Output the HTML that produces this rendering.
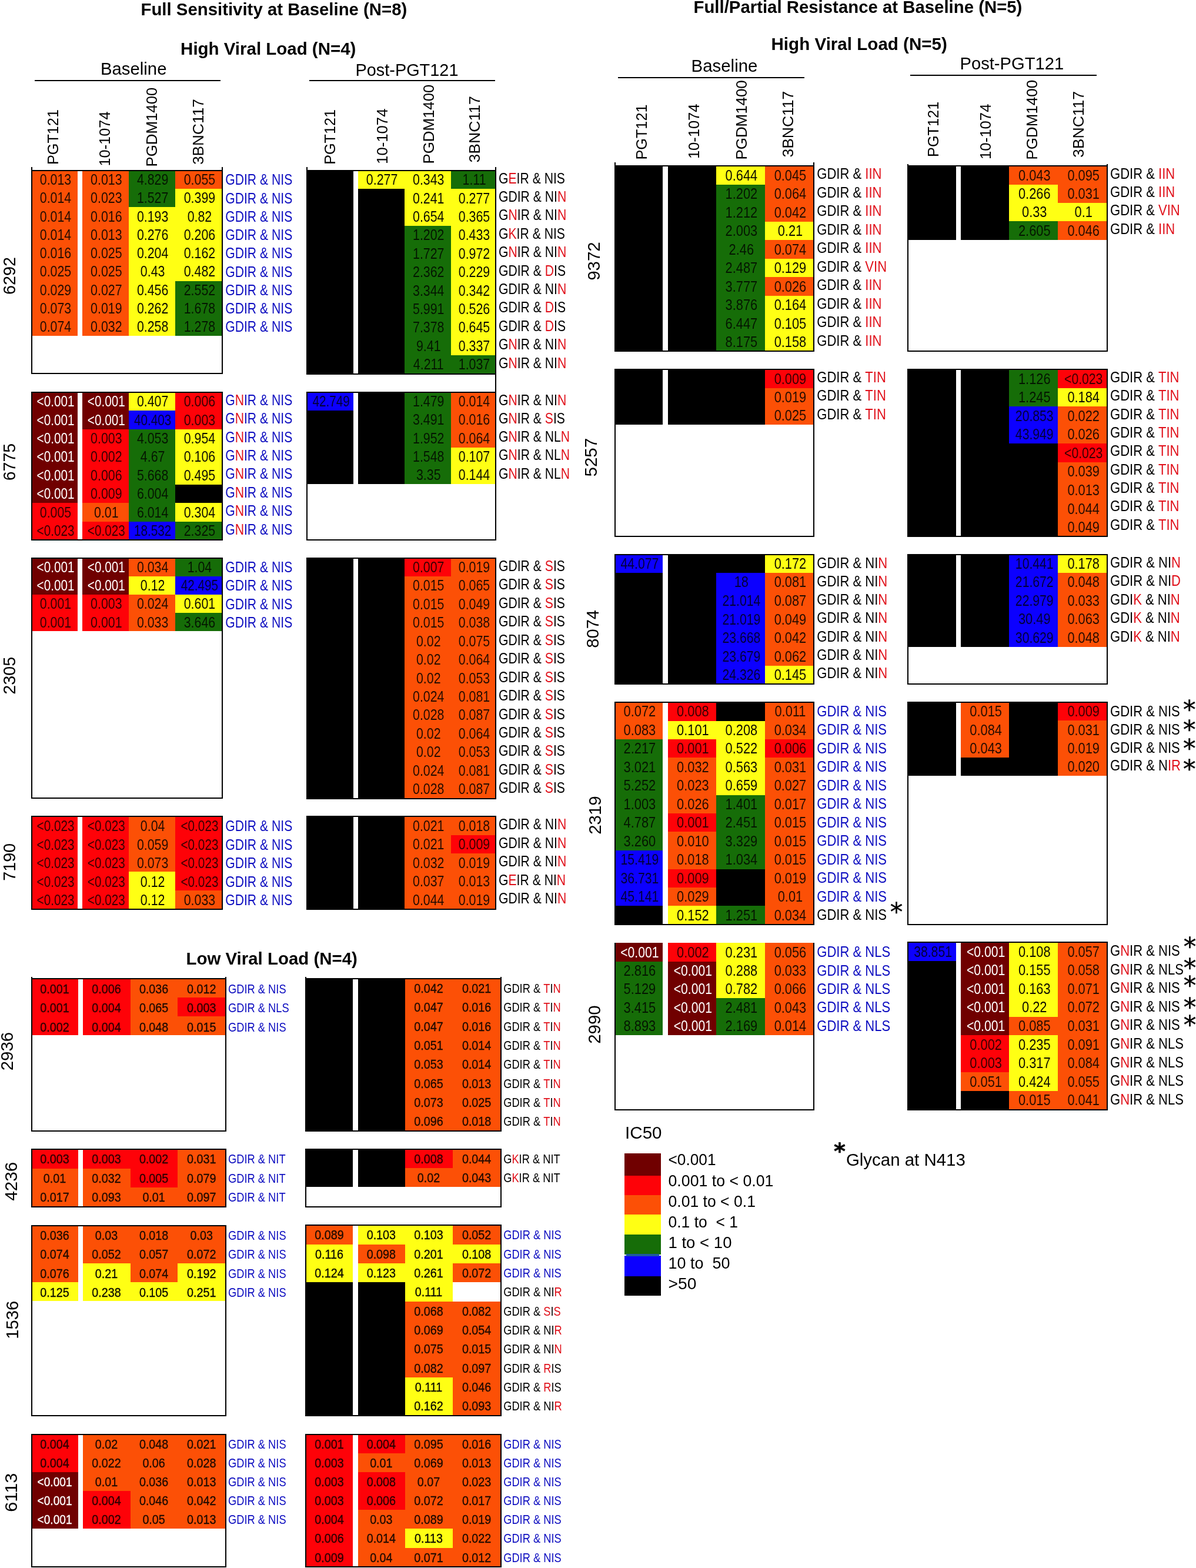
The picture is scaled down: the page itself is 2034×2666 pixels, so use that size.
<!DOCTYPE html>
<html lang="en"><head><meta charset="utf-8"><title>Figure</title>
<style>
html,body{margin:0;padding:0;background:#fff;}
svg{display:block;font-family:"Liberation Sans",Arial,Helvetica,sans-serif;}
svg text{white-space:pre;}
</style></head><body>
<svg width="2034" height="2666" viewBox="0 0 2034 2666" shape-rendering="crispEdges">
<rect x="0" y="0" width="2034" height="2666" fill="#fff"/>
<text transform="translate(239.50 26.00) scale(1.0199 1)" font-size="28.8" text-anchor="start" fill="#000" font-weight="bold">Full Sensitivity at Baseline (N=8)</text>
<text transform="translate(307.10 93.00) scale(1.0236 1)" font-size="28.8" text-anchor="start" fill="#000" font-weight="bold">High Viral Load (N=4)</text>
<text transform="translate(1179.50 21.80) scale(1.0197 1)" font-size="28.8" text-anchor="start" fill="#000" font-weight="bold">Full/Partial Resistance at Baseline (N=5)</text>
<text transform="translate(1311.50 84.90) scale(1.0274 1)" font-size="28.8" text-anchor="start" fill="#000" font-weight="bold">High Viral Load (N=5)</text>
<text transform="translate(316.50 1640.00) scale(1.0224 1)" font-size="28.8" text-anchor="start" fill="#000" font-weight="bold">Low Viral Load (N=4)</text>
<text transform="translate(171.00 126.80) scale(1.0254 1)" font-size="28.6" text-anchor="start" fill="#000">Baseline</text>
<text transform="translate(604.50 129.30) scale(1.0100 1)" font-size="28.6" text-anchor="start" fill="#000">Post-PGT121</text>
<text transform="translate(1175.50 122.00) scale(1.0300 1)" font-size="28.6" text-anchor="start" fill="#000">Baseline</text>
<text transform="translate(1632.50 117.60) scale(1.0198 1)" font-size="28.6" text-anchor="start" fill="#000">Post-PGT121</text>
<line x1="59.00" y1="136.60" x2="374.50" y2="136.60" stroke="#000" stroke-width="2"/>
<line x1="526.00" y1="136.80" x2="842.00" y2="136.80" stroke="#000" stroke-width="2"/>
<line x1="1051.00" y1="132.20" x2="1368.30" y2="132.20" stroke="#000" stroke-width="2"/>
<line x1="1547.70" y1="128.00" x2="1865.00" y2="128.00" stroke="#000" stroke-width="2"/>
<text transform="translate(99.13 280.10) rotate(-90) scale(0.9793 1)" font-size="25.8" text-anchor="start" fill="#000">PGT121</text>
<text transform="translate(186.73 282.50) rotate(-90) scale(0.9822 1)" font-size="25.8" text-anchor="start" fill="#000">10-1074</text>
<text transform="translate(267.13 283.50) rotate(-90) scale(1.0015 1)" font-size="25.8" text-anchor="start" fill="#000">PGDM1400</text>
<text transform="translate(345.63 280.10) rotate(-90) scale(1.0186 1)" font-size="25.8" text-anchor="start" fill="#000">3BNC117</text>
<text transform="translate(569.73 279.80) rotate(-90) scale(0.9762 1)" font-size="25.8" text-anchor="start" fill="#000">PGT121</text>
<text transform="translate(659.13 278.90) rotate(-90) scale(0.9970 1)" font-size="25.8" text-anchor="start" fill="#000">10-1074</text>
<text transform="translate(737.53 278.50) rotate(-90) scale(1.0015 1)" font-size="25.8" text-anchor="start" fill="#000">PGDM1400</text>
<text transform="translate(816.13 276.50) rotate(-90) scale(1.0313 1)" font-size="25.8" text-anchor="start" fill="#000">3BNC117</text>
<text transform="translate(1100.13 271.50) rotate(-90) scale(0.9783 1)" font-size="25.8" text-anchor="start" fill="#000">PGT121</text>
<text transform="translate(1189.13 270.10) rotate(-90) scale(0.9885 1)" font-size="25.8" text-anchor="start" fill="#000">10-1074</text>
<text transform="translate(1269.63 271.50) rotate(-90) scale(1.0037 1)" font-size="25.8" text-anchor="start" fill="#000">PGDM1400</text>
<text transform="translate(1348.63 267.50) rotate(-90) scale(1.0250 1)" font-size="25.8" text-anchor="start" fill="#000">3BNC117</text>
<text transform="translate(1596.13 266.90) rotate(-90) scale(0.9804 1)" font-size="25.8" text-anchor="start" fill="#000">PGT121</text>
<text transform="translate(1684.53 271.00) rotate(-90) scale(0.9980 1)" font-size="25.8" text-anchor="start" fill="#000">10-1074</text>
<text transform="translate(1764.03 271.70) rotate(-90) scale(1.0082 1)" font-size="25.8" text-anchor="start" fill="#000">PGDM1400</text>
<text transform="translate(1843.43 267.90) rotate(-90) scale(1.0277 1)" font-size="25.8" text-anchor="start" fill="#000">3BNC117</text>
<text transform="translate(26.30 501.00) rotate(-90) scale(0.9686 1)" font-size="29.7" text-anchor="start" fill="#000">6292</text>
<text transform="translate(26.30 817.25) rotate(-90) scale(0.9611 1)" font-size="29.7" text-anchor="start" fill="#000">6775</text>
<text transform="translate(26.30 1180.80) rotate(-90) scale(0.9686 1)" font-size="29.7" text-anchor="start" fill="#000">2305</text>
<text transform="translate(26.30 1497.80) rotate(-90) scale(0.9686 1)" font-size="29.7" text-anchor="start" fill="#000">7190</text>
<text transform="translate(21.89 1820.25) rotate(-90) scale(0.9913 1)" font-size="29.7" text-anchor="start" fill="#000">2936</text>
<text transform="translate(29.09 2041.70) rotate(-90) scale(0.9989 1)" font-size="29.7" text-anchor="start" fill="#000">4236</text>
<text transform="translate(31.39 2276.80) rotate(-90) scale(0.9838 1)" font-size="29.7" text-anchor="start" fill="#000">1536</text>
<text transform="translate(28.70 2570.70) rotate(-90) scale(1.0334 1)" font-size="29.7" text-anchor="start" fill="#000">6113</text>
<text transform="translate(1019.69 476.75) rotate(-90) scale(0.9913 1)" font-size="29.7" text-anchor="start" fill="#000">9372</text>
<text transform="translate(1015.19 810.45) rotate(-90) scale(0.9913 1)" font-size="29.7" text-anchor="start" fill="#000">5257</text>
<text transform="translate(1018.39 1101.65) rotate(-90) scale(0.9792 1)" font-size="29.7" text-anchor="start" fill="#000">8074</text>
<text transform="translate(1022.19 1418.75) rotate(-90) scale(0.9913 1)" font-size="29.7" text-anchor="start" fill="#000">2319</text>
<text transform="translate(1020.89 1774.75) rotate(-90) scale(0.9913 1)" font-size="29.7" text-anchor="start" fill="#000">2990</text>
<rect x="54" y="290" width="78" height="281" fill="#fc5006"/>
<rect x="140" y="290" width="79" height="281" fill="#fc5006"/>
<rect x="219" y="290" width="79" height="62" fill="#166d08"/>
<rect x="219" y="352" width="79" height="219" fill="#ffff14"/>
<rect x="298" y="290" width="80" height="31" fill="#fc5006"/>
<rect x="298" y="321" width="80" height="157" fill="#ffff14"/>
<rect x="298" y="478" width="80" height="93" fill="#166d08"/>
<text transform="translate(94.50 314.20) scale(0.8350 1)" font-size="25.6" text-anchor="middle" fill="#000" fill-opacity="0.85">0.013</text>
<text transform="translate(180.80 314.20) scale(0.8350 1)" font-size="25.6" text-anchor="middle" fill="#000" fill-opacity="0.85">0.013</text>
<text transform="translate(259.65 314.20) scale(0.8350 1)" font-size="25.6" text-anchor="middle" fill="#000" fill-opacity="0.8">4.829</text>
<text transform="translate(339.45 314.20) scale(0.8350 1)" font-size="25.6" text-anchor="middle" fill="#000" fill-opacity="0.85">0.055</text>
<text transform="translate(94.50 345.45) scale(0.8350 1)" font-size="25.6" text-anchor="middle" fill="#000" fill-opacity="0.85">0.014</text>
<text transform="translate(180.80 345.45) scale(0.8350 1)" font-size="25.6" text-anchor="middle" fill="#000" fill-opacity="0.85">0.023</text>
<text transform="translate(259.65 345.45) scale(0.8350 1)" font-size="25.6" text-anchor="middle" fill="#000" fill-opacity="0.8">1.527</text>
<text transform="translate(339.45 345.45) scale(0.8350 1)" font-size="25.6" text-anchor="middle" fill="#000" fill-opacity="0.95">0.399</text>
<text transform="translate(94.50 376.70) scale(0.8350 1)" font-size="25.6" text-anchor="middle" fill="#000" fill-opacity="0.85">0.014</text>
<text transform="translate(180.80 376.70) scale(0.8350 1)" font-size="25.6" text-anchor="middle" fill="#000" fill-opacity="0.85">0.016</text>
<text transform="translate(259.65 376.70) scale(0.8350 1)" font-size="25.6" text-anchor="middle" fill="#000" fill-opacity="0.95">0.193</text>
<text transform="translate(339.45 376.70) scale(0.8350 1)" font-size="25.6" text-anchor="middle" fill="#000" fill-opacity="0.95">0.82</text>
<text transform="translate(94.50 407.95) scale(0.8350 1)" font-size="25.6" text-anchor="middle" fill="#000" fill-opacity="0.85">0.014</text>
<text transform="translate(180.80 407.95) scale(0.8350 1)" font-size="25.6" text-anchor="middle" fill="#000" fill-opacity="0.85">0.013</text>
<text transform="translate(259.65 407.95) scale(0.8350 1)" font-size="25.6" text-anchor="middle" fill="#000" fill-opacity="0.95">0.276</text>
<text transform="translate(339.45 407.95) scale(0.8350 1)" font-size="25.6" text-anchor="middle" fill="#000" fill-opacity="0.95">0.206</text>
<text transform="translate(94.50 439.20) scale(0.8350 1)" font-size="25.6" text-anchor="middle" fill="#000" fill-opacity="0.85">0.016</text>
<text transform="translate(180.80 439.20) scale(0.8350 1)" font-size="25.6" text-anchor="middle" fill="#000" fill-opacity="0.85">0.025</text>
<text transform="translate(259.65 439.20) scale(0.8350 1)" font-size="25.6" text-anchor="middle" fill="#000" fill-opacity="0.95">0.204</text>
<text transform="translate(339.45 439.20) scale(0.8350 1)" font-size="25.6" text-anchor="middle" fill="#000" fill-opacity="0.95">0.162</text>
<text transform="translate(94.50 470.45) scale(0.8350 1)" font-size="25.6" text-anchor="middle" fill="#000" fill-opacity="0.85">0.025</text>
<text transform="translate(180.80 470.45) scale(0.8350 1)" font-size="25.6" text-anchor="middle" fill="#000" fill-opacity="0.85">0.025</text>
<text transform="translate(259.65 470.45) scale(0.8350 1)" font-size="25.6" text-anchor="middle" fill="#000" fill-opacity="0.95">0.43</text>
<text transform="translate(339.45 470.45) scale(0.8350 1)" font-size="25.6" text-anchor="middle" fill="#000" fill-opacity="0.95">0.482</text>
<text transform="translate(94.50 501.70) scale(0.8350 1)" font-size="25.6" text-anchor="middle" fill="#000" fill-opacity="0.85">0.029</text>
<text transform="translate(180.80 501.70) scale(0.8350 1)" font-size="25.6" text-anchor="middle" fill="#000" fill-opacity="0.85">0.027</text>
<text transform="translate(259.65 501.70) scale(0.8350 1)" font-size="25.6" text-anchor="middle" fill="#000" fill-opacity="0.95">0.456</text>
<text transform="translate(339.45 501.70) scale(0.8350 1)" font-size="25.6" text-anchor="middle" fill="#000" fill-opacity="0.8">2.552</text>
<text transform="translate(94.50 532.95) scale(0.8350 1)" font-size="25.6" text-anchor="middle" fill="#000" fill-opacity="0.85">0.073</text>
<text transform="translate(180.80 532.95) scale(0.8350 1)" font-size="25.6" text-anchor="middle" fill="#000" fill-opacity="0.85">0.019</text>
<text transform="translate(259.65 532.95) scale(0.8350 1)" font-size="25.6" text-anchor="middle" fill="#000" fill-opacity="0.95">0.262</text>
<text transform="translate(339.45 532.95) scale(0.8350 1)" font-size="25.6" text-anchor="middle" fill="#000" fill-opacity="0.8">1.678</text>
<text transform="translate(94.50 564.20) scale(0.8350 1)" font-size="25.6" text-anchor="middle" fill="#000" fill-opacity="0.85">0.074</text>
<text transform="translate(180.80 564.20) scale(0.8350 1)" font-size="25.6" text-anchor="middle" fill="#000" fill-opacity="0.85">0.032</text>
<text transform="translate(259.65 564.20) scale(0.8350 1)" font-size="25.6" text-anchor="middle" fill="#000" fill-opacity="0.95">0.258</text>
<text transform="translate(339.45 564.20) scale(0.8350 1)" font-size="25.6" text-anchor="middle" fill="#000" fill-opacity="0.8">1.278</text>
<rect x="54.00" y="290.00" width="324.20" height="345.00" fill="none" stroke="#000" stroke-width="2"/>
<line x1="54.00" y1="284.00" x2="54.00" y2="291.00" stroke="#000" stroke-width="2"/>
<line x1="378.20" y1="284.00" x2="378.20" y2="291.00" stroke="#000" stroke-width="2"/>
<text transform="translate(383.20 314.30) scale(0.8370 1)" font-size="25.3" text-anchor="start" fill="#0d0dc0">GDIR &amp; NIS</text>
<text transform="translate(383.20 345.55) scale(0.8370 1)" font-size="25.3" text-anchor="start" fill="#0d0dc0">GDIR &amp; NIS</text>
<text transform="translate(383.20 376.80) scale(0.8370 1)" font-size="25.3" text-anchor="start" fill="#0d0dc0">GDIR &amp; NIS</text>
<text transform="translate(383.20 408.05) scale(0.8370 1)" font-size="25.3" text-anchor="start" fill="#0d0dc0">GDIR &amp; NIS</text>
<text transform="translate(383.20 439.30) scale(0.8370 1)" font-size="25.3" text-anchor="start" fill="#0d0dc0">GDIR &amp; NIS</text>
<text transform="translate(383.20 470.55) scale(0.8370 1)" font-size="25.3" text-anchor="start" fill="#0d0dc0">GDIR &amp; NIS</text>
<text transform="translate(383.20 501.80) scale(0.8370 1)" font-size="25.3" text-anchor="start" fill="#0d0dc0">GDIR &amp; NIS</text>
<text transform="translate(383.20 533.05) scale(0.8370 1)" font-size="25.3" text-anchor="start" fill="#0d0dc0">GDIR &amp; NIS</text>
<text transform="translate(383.20 564.30) scale(0.8370 1)" font-size="25.3" text-anchor="start" fill="#0d0dc0">GDIR &amp; NIS</text>
<rect x="522" y="290" width="79" height="345" fill="#000000"/>
<rect x="609" y="290" width="79" height="31" fill="#ffff14"/>
<rect x="609" y="321" width="79" height="314" fill="#000000"/>
<rect x="688" y="290" width="79" height="94" fill="#ffff14"/>
<rect x="688" y="384" width="79" height="251" fill="#166d08"/>
<rect x="767" y="290" width="76" height="31" fill="#166d08"/>
<rect x="767" y="321" width="76" height="283" fill="#ffff14"/>
<rect x="767" y="604" width="76" height="31" fill="#166d08"/>
<text transform="translate(649.55 314.20) scale(0.8350 1)" font-size="25.6" text-anchor="middle" fill="#000" fill-opacity="0.95">0.277</text>
<text transform="translate(728.75 314.20) scale(0.8350 1)" font-size="25.6" text-anchor="middle" fill="#000" fill-opacity="0.95">0.343</text>
<text transform="translate(806.50 314.20) scale(0.8350 1)" font-size="25.6" text-anchor="middle" fill="#000" fill-opacity="0.8">1.11</text>
<text transform="translate(728.75 345.60) scale(0.8350 1)" font-size="25.6" text-anchor="middle" fill="#000" fill-opacity="0.95">0.241</text>
<text transform="translate(806.50 345.60) scale(0.8350 1)" font-size="25.6" text-anchor="middle" fill="#000" fill-opacity="0.95">0.277</text>
<text transform="translate(728.75 377.00) scale(0.8350 1)" font-size="25.6" text-anchor="middle" fill="#000" fill-opacity="0.95">0.654</text>
<text transform="translate(806.50 377.00) scale(0.8350 1)" font-size="25.6" text-anchor="middle" fill="#000" fill-opacity="0.95">0.365</text>
<text transform="translate(728.75 408.40) scale(0.8350 1)" font-size="25.6" text-anchor="middle" fill="#000" fill-opacity="0.8">1.202</text>
<text transform="translate(806.50 408.40) scale(0.8350 1)" font-size="25.6" text-anchor="middle" fill="#000" fill-opacity="0.95">0.433</text>
<text transform="translate(728.75 439.80) scale(0.8350 1)" font-size="25.6" text-anchor="middle" fill="#000" fill-opacity="0.8">1.727</text>
<text transform="translate(806.50 439.80) scale(0.8350 1)" font-size="25.6" text-anchor="middle" fill="#000" fill-opacity="0.95">0.972</text>
<text transform="translate(728.75 471.20) scale(0.8350 1)" font-size="25.6" text-anchor="middle" fill="#000" fill-opacity="0.8">2.362</text>
<text transform="translate(806.50 471.20) scale(0.8350 1)" font-size="25.6" text-anchor="middle" fill="#000" fill-opacity="0.95">0.229</text>
<text transform="translate(728.75 502.60) scale(0.8350 1)" font-size="25.6" text-anchor="middle" fill="#000" fill-opacity="0.8">3.344</text>
<text transform="translate(806.50 502.60) scale(0.8350 1)" font-size="25.6" text-anchor="middle" fill="#000" fill-opacity="0.95">0.342</text>
<text transform="translate(728.75 534.00) scale(0.8350 1)" font-size="25.6" text-anchor="middle" fill="#000" fill-opacity="0.8">5.991</text>
<text transform="translate(806.50 534.00) scale(0.8350 1)" font-size="25.6" text-anchor="middle" fill="#000" fill-opacity="0.95">0.526</text>
<text transform="translate(728.75 565.40) scale(0.8350 1)" font-size="25.6" text-anchor="middle" fill="#000" fill-opacity="0.8">7.378</text>
<text transform="translate(806.50 565.40) scale(0.8350 1)" font-size="25.6" text-anchor="middle" fill="#000" fill-opacity="0.95">0.645</text>
<text transform="translate(728.75 596.80) scale(0.8350 1)" font-size="25.6" text-anchor="middle" fill="#000" fill-opacity="0.8">9.41</text>
<text transform="translate(806.50 596.80) scale(0.8350 1)" font-size="25.6" text-anchor="middle" fill="#000" fill-opacity="0.95">0.337</text>
<text transform="translate(728.75 628.20) scale(0.8350 1)" font-size="25.6" text-anchor="middle" fill="#000" fill-opacity="0.8">4.211</text>
<text transform="translate(806.50 628.20) scale(0.8350 1)" font-size="25.6" text-anchor="middle" fill="#000" fill-opacity="0.8">1.037</text>
<rect x="522.30" y="290.00" width="320.70" height="345.50" fill="none" stroke="#000" stroke-width="2"/>
<line x1="522.30" y1="284.00" x2="522.30" y2="291.00" stroke="#000" stroke-width="2"/>
<line x1="843.00" y1="284.00" x2="843.00" y2="291.00" stroke="#000" stroke-width="2"/>
<text transform="translate(848.00 311.60) scale(0.8370 1)" font-size="25.3" text-anchor="start" fill="#000">G<tspan fill="#e0101a">E</tspan>IR &amp; NIS</text>
<text transform="translate(848.00 343.00) scale(0.8370 1)" font-size="25.3" text-anchor="start" fill="#000">GDIR &amp; NI<tspan fill="#e0101a">N</tspan></text>
<text transform="translate(848.00 374.40) scale(0.8370 1)" font-size="25.3" text-anchor="start" fill="#000">G<tspan fill="#e0101a">N</tspan>IR &amp; NI<tspan fill="#e0101a">N</tspan></text>
<text transform="translate(848.00 405.80) scale(0.8370 1)" font-size="25.3" text-anchor="start" fill="#000">G<tspan fill="#e0101a">K</tspan>IR &amp; NIS</text>
<text transform="translate(848.00 437.20) scale(0.8370 1)" font-size="25.3" text-anchor="start" fill="#000">G<tspan fill="#e0101a">N</tspan>IR &amp; NI<tspan fill="#e0101a">N</tspan></text>
<text transform="translate(848.00 468.60) scale(0.8370 1)" font-size="25.3" text-anchor="start" fill="#000">GDIR &amp; <tspan fill="#e0101a">D</tspan>IS</text>
<text transform="translate(848.00 500.00) scale(0.8370 1)" font-size="25.3" text-anchor="start" fill="#000">GDIR &amp; NI<tspan fill="#e0101a">N</tspan></text>
<text transform="translate(848.00 531.40) scale(0.8370 1)" font-size="25.3" text-anchor="start" fill="#000">GDIR &amp; <tspan fill="#e0101a">D</tspan>IS</text>
<text transform="translate(848.00 562.80) scale(0.8370 1)" font-size="25.3" text-anchor="start" fill="#000">GDIR &amp; <tspan fill="#e0101a">D</tspan>IS</text>
<text transform="translate(848.00 594.20) scale(0.8370 1)" font-size="25.3" text-anchor="start" fill="#000">G<tspan fill="#e0101a">N</tspan>IR &amp; NI<tspan fill="#e0101a">N</tspan></text>
<text transform="translate(848.00 625.60) scale(0.8370 1)" font-size="25.3" text-anchor="start" fill="#000">G<tspan fill="#e0101a">N</tspan>IR &amp; NI<tspan fill="#e0101a">N</tspan></text>
<rect x="54" y="667" width="78" height="188" fill="#700000"/>
<rect x="54" y="855" width="78" height="63" fill="#fe0208"/>
<rect x="140" y="667" width="79" height="63" fill="#700000"/>
<rect x="140" y="730" width="79" height="125" fill="#fe0208"/>
<rect x="140" y="855" width="79" height="32" fill="#fc5006"/>
<rect x="140" y="887" width="79" height="31" fill="#fe0208"/>
<rect x="219" y="667" width="79" height="31" fill="#ffff14"/>
<rect x="219" y="698" width="79" height="32" fill="#0c00ff"/>
<rect x="219" y="730" width="79" height="157" fill="#166d08"/>
<rect x="219" y="887" width="79" height="31" fill="#0c00ff"/>
<rect x="298" y="667" width="80" height="63" fill="#fe0208"/>
<rect x="298" y="730" width="80" height="94" fill="#ffff14"/>
<rect x="298" y="824" width="80" height="31" fill="#000000"/>
<rect x="298" y="855" width="80" height="32" fill="#ffff14"/>
<rect x="298" y="887" width="80" height="31" fill="#166d08"/>
<text transform="translate(94.50 691.20) scale(0.8099 1)" font-size="25.6" text-anchor="middle" fill="#fff">&lt;0.001</text>
<text transform="translate(180.80 691.20) scale(0.8099 1)" font-size="25.6" text-anchor="middle" fill="#fff">&lt;0.001</text>
<text transform="translate(259.65 691.20) scale(0.8350 1)" font-size="25.6" text-anchor="middle" fill="#000" fill-opacity="0.95">0.407</text>
<text transform="translate(339.45 691.20) scale(0.8350 1)" font-size="25.6" text-anchor="middle" fill="#000" fill-opacity="0.78">0.006</text>
<text transform="translate(94.50 722.60) scale(0.8099 1)" font-size="25.6" text-anchor="middle" fill="#fff">&lt;0.001</text>
<text transform="translate(180.80 722.60) scale(0.8099 1)" font-size="25.6" text-anchor="middle" fill="#fff">&lt;0.001</text>
<text transform="translate(259.65 722.60) scale(0.8099 1)" font-size="25.6" text-anchor="middle" fill="#000" fill-opacity="0.78">40.403</text>
<text transform="translate(339.45 722.60) scale(0.8350 1)" font-size="25.6" text-anchor="middle" fill="#000" fill-opacity="0.78">0.003</text>
<text transform="translate(94.50 754.00) scale(0.8099 1)" font-size="25.6" text-anchor="middle" fill="#fff">&lt;0.001</text>
<text transform="translate(180.80 754.00) scale(0.8350 1)" font-size="25.6" text-anchor="middle" fill="#000" fill-opacity="0.78">0.003</text>
<text transform="translate(259.65 754.00) scale(0.8350 1)" font-size="25.6" text-anchor="middle" fill="#000" fill-opacity="0.8">4.053</text>
<text transform="translate(339.45 754.00) scale(0.8350 1)" font-size="25.6" text-anchor="middle" fill="#000" fill-opacity="0.95">0.954</text>
<text transform="translate(94.50 785.40) scale(0.8099 1)" font-size="25.6" text-anchor="middle" fill="#fff">&lt;0.001</text>
<text transform="translate(180.80 785.40) scale(0.8350 1)" font-size="25.6" text-anchor="middle" fill="#000" fill-opacity="0.78">0.002</text>
<text transform="translate(259.65 785.40) scale(0.8350 1)" font-size="25.6" text-anchor="middle" fill="#000" fill-opacity="0.8">4.67</text>
<text transform="translate(339.45 785.40) scale(0.8350 1)" font-size="25.6" text-anchor="middle" fill="#000" fill-opacity="0.95">0.106</text>
<text transform="translate(94.50 816.80) scale(0.8099 1)" font-size="25.6" text-anchor="middle" fill="#fff">&lt;0.001</text>
<text transform="translate(180.80 816.80) scale(0.8350 1)" font-size="25.6" text-anchor="middle" fill="#000" fill-opacity="0.78">0.006</text>
<text transform="translate(259.65 816.80) scale(0.8350 1)" font-size="25.6" text-anchor="middle" fill="#000" fill-opacity="0.8">5.668</text>
<text transform="translate(339.45 816.80) scale(0.8350 1)" font-size="25.6" text-anchor="middle" fill="#000" fill-opacity="0.95">0.495</text>
<text transform="translate(94.50 848.20) scale(0.8099 1)" font-size="25.6" text-anchor="middle" fill="#fff">&lt;0.001</text>
<text transform="translate(180.80 848.20) scale(0.8350 1)" font-size="25.6" text-anchor="middle" fill="#000" fill-opacity="0.78">0.009</text>
<text transform="translate(259.65 848.20) scale(0.8350 1)" font-size="25.6" text-anchor="middle" fill="#000" fill-opacity="0.8">6.004</text>
<text transform="translate(94.50 879.60) scale(0.8350 1)" font-size="25.6" text-anchor="middle" fill="#000" fill-opacity="0.78">0.005</text>
<text transform="translate(180.80 879.60) scale(0.8350 1)" font-size="25.6" text-anchor="middle" fill="#000" fill-opacity="0.85">0.01</text>
<text transform="translate(259.65 879.60) scale(0.8350 1)" font-size="25.6" text-anchor="middle" fill="#000" fill-opacity="0.8">6.014</text>
<text transform="translate(339.45 879.60) scale(0.8350 1)" font-size="25.6" text-anchor="middle" fill="#000" fill-opacity="0.95">0.304</text>
<text transform="translate(94.50 911.00) scale(0.8099 1)" font-size="25.6" text-anchor="middle" fill="#000" fill-opacity="0.78">&lt;0.023</text>
<text transform="translate(180.80 911.00) scale(0.8099 1)" font-size="25.6" text-anchor="middle" fill="#000" fill-opacity="0.78">&lt;0.023</text>
<text transform="translate(259.65 911.00) scale(0.8099 1)" font-size="25.6" text-anchor="middle" fill="#000" fill-opacity="0.78">18.532</text>
<text transform="translate(339.45 911.00) scale(0.8350 1)" font-size="25.6" text-anchor="middle" fill="#000" fill-opacity="0.8">2.325</text>
<rect x="54.00" y="667.00" width="324.20" height="251.00" fill="none" stroke="#000" stroke-width="2"/>
<text transform="translate(383.20 688.80) scale(0.8370 1)" font-size="25.3" text-anchor="start" fill="#0d0dc0">G<tspan fill="#e0101a">N</tspan>IR &amp; NIS</text>
<text transform="translate(383.20 720.20) scale(0.8370 1)" font-size="25.3" text-anchor="start" fill="#0d0dc0">G<tspan fill="#e0101a">N</tspan>IR &amp; NIS</text>
<text transform="translate(383.20 751.60) scale(0.8370 1)" font-size="25.3" text-anchor="start" fill="#0d0dc0">G<tspan fill="#e0101a">N</tspan>IR &amp; NIS</text>
<text transform="translate(383.20 783.00) scale(0.8370 1)" font-size="25.3" text-anchor="start" fill="#0d0dc0">G<tspan fill="#e0101a">N</tspan>IR &amp; NIS</text>
<text transform="translate(383.20 814.40) scale(0.8370 1)" font-size="25.3" text-anchor="start" fill="#0d0dc0">G<tspan fill="#e0101a">N</tspan>IR &amp; NIS</text>
<text transform="translate(383.20 845.80) scale(0.8370 1)" font-size="25.3" text-anchor="start" fill="#0d0dc0">G<tspan fill="#e0101a">N</tspan>IR &amp; NIS</text>
<text transform="translate(383.20 877.20) scale(0.8370 1)" font-size="25.3" text-anchor="start" fill="#0d0dc0">G<tspan fill="#e0101a">N</tspan>IR &amp; NIS</text>
<text transform="translate(383.20 908.60) scale(0.8370 1)" font-size="25.3" text-anchor="start" fill="#0d0dc0">G<tspan fill="#e0101a">N</tspan>IR &amp; NIS</text>
<rect x="522" y="667" width="79" height="31" fill="#0c00ff"/>
<rect x="522" y="698" width="79" height="125" fill="#000000"/>
<rect x="609" y="667" width="79" height="156" fill="#000000"/>
<rect x="688" y="667" width="79" height="156" fill="#166d08"/>
<rect x="767" y="667" width="76" height="94" fill="#fc5006"/>
<rect x="767" y="761" width="76" height="62" fill="#ffff14"/>
<text transform="translate(563.15 691.20) scale(0.8099 1)" font-size="25.6" text-anchor="middle" fill="#000" fill-opacity="0.78">42.749</text>
<text transform="translate(728.75 691.20) scale(0.8350 1)" font-size="25.6" text-anchor="middle" fill="#000" fill-opacity="0.8">1.479</text>
<text transform="translate(806.50 691.20) scale(0.8350 1)" font-size="25.6" text-anchor="middle" fill="#000" fill-opacity="0.85">0.014</text>
<text transform="translate(728.75 722.40) scale(0.8350 1)" font-size="25.6" text-anchor="middle" fill="#000" fill-opacity="0.8">3.491</text>
<text transform="translate(806.50 722.40) scale(0.8350 1)" font-size="25.6" text-anchor="middle" fill="#000" fill-opacity="0.85">0.016</text>
<text transform="translate(728.75 753.60) scale(0.8350 1)" font-size="25.6" text-anchor="middle" fill="#000" fill-opacity="0.8">1.952</text>
<text transform="translate(806.50 753.60) scale(0.8350 1)" font-size="25.6" text-anchor="middle" fill="#000" fill-opacity="0.85">0.064</text>
<text transform="translate(728.75 784.80) scale(0.8350 1)" font-size="25.6" text-anchor="middle" fill="#000" fill-opacity="0.8">1.548</text>
<text transform="translate(806.50 784.80) scale(0.8350 1)" font-size="25.6" text-anchor="middle" fill="#000" fill-opacity="0.95">0.107</text>
<text transform="translate(728.75 816.00) scale(0.8350 1)" font-size="25.6" text-anchor="middle" fill="#000" fill-opacity="0.8">3.35</text>
<text transform="translate(806.50 816.00) scale(0.8350 1)" font-size="25.6" text-anchor="middle" fill="#000" fill-opacity="0.95">0.144</text>
<rect x="522.30" y="667.00" width="320.70" height="251.00" fill="none" stroke="#000" stroke-width="2"/>
<text transform="translate(848.00 688.80) scale(0.8370 1)" font-size="25.3" text-anchor="start" fill="#000">G<tspan fill="#e0101a">N</tspan>IR &amp; NI<tspan fill="#e0101a">N</tspan></text>
<text transform="translate(848.00 720.00) scale(0.8370 1)" font-size="25.3" text-anchor="start" fill="#000">G<tspan fill="#e0101a">N</tspan>IR &amp; <tspan fill="#e0101a">S</tspan>IS</text>
<text transform="translate(848.00 751.20) scale(0.8370 1)" font-size="25.3" text-anchor="start" fill="#000">G<tspan fill="#e0101a">N</tspan>IR &amp; NL<tspan fill="#e0101a">N</tspan></text>
<text transform="translate(848.00 782.40) scale(0.8370 1)" font-size="25.3" text-anchor="start" fill="#000">G<tspan fill="#e0101a">N</tspan>IR &amp; NL<tspan fill="#e0101a">N</tspan></text>
<text transform="translate(848.00 813.60) scale(0.8370 1)" font-size="25.3" text-anchor="start" fill="#000">G<tspan fill="#e0101a">N</tspan>IR &amp; NL<tspan fill="#e0101a">N</tspan></text>
<line x1="843" y1="635" x2="843" y2="668" stroke="#000" stroke-width="2"/>
<rect x="54" y="949" width="78" height="62" fill="#700000"/>
<rect x="54" y="1011" width="78" height="62" fill="#fe0208"/>
<rect x="140" y="949" width="79" height="62" fill="#700000"/>
<rect x="140" y="1011" width="79" height="62" fill="#fe0208"/>
<rect x="219" y="949" width="79" height="31" fill="#fc5006"/>
<rect x="219" y="980" width="79" height="31" fill="#ffff14"/>
<rect x="219" y="1011" width="79" height="62" fill="#fc5006"/>
<rect x="298" y="949" width="80" height="31" fill="#166d08"/>
<rect x="298" y="980" width="80" height="31" fill="#0c00ff"/>
<rect x="298" y="1011" width="80" height="31" fill="#ffff14"/>
<rect x="298" y="1042" width="80" height="31" fill="#166d08"/>
<text transform="translate(94.50 973.20) scale(0.8099 1)" font-size="25.6" text-anchor="middle" fill="#fff">&lt;0.001</text>
<text transform="translate(180.80 973.20) scale(0.8099 1)" font-size="25.6" text-anchor="middle" fill="#fff">&lt;0.001</text>
<text transform="translate(259.65 973.20) scale(0.8350 1)" font-size="25.6" text-anchor="middle" fill="#000" fill-opacity="0.85">0.034</text>
<text transform="translate(339.45 973.20) scale(0.8350 1)" font-size="25.6" text-anchor="middle" fill="#000" fill-opacity="0.8">1.04</text>
<text transform="translate(94.50 1004.30) scale(0.8099 1)" font-size="25.6" text-anchor="middle" fill="#fff">&lt;0.001</text>
<text transform="translate(180.80 1004.30) scale(0.8099 1)" font-size="25.6" text-anchor="middle" fill="#fff">&lt;0.001</text>
<text transform="translate(259.65 1004.30) scale(0.8350 1)" font-size="25.6" text-anchor="middle" fill="#000" fill-opacity="0.95">0.12</text>
<text transform="translate(339.45 1004.30) scale(0.8099 1)" font-size="25.6" text-anchor="middle" fill="#000" fill-opacity="0.78">42.495</text>
<text transform="translate(94.50 1035.40) scale(0.8350 1)" font-size="25.6" text-anchor="middle" fill="#000" fill-opacity="0.78">0.001</text>
<text transform="translate(180.80 1035.40) scale(0.8350 1)" font-size="25.6" text-anchor="middle" fill="#000" fill-opacity="0.78">0.003</text>
<text transform="translate(259.65 1035.40) scale(0.8350 1)" font-size="25.6" text-anchor="middle" fill="#000" fill-opacity="0.85">0.024</text>
<text transform="translate(339.45 1035.40) scale(0.8350 1)" font-size="25.6" text-anchor="middle" fill="#000" fill-opacity="0.95">0.601</text>
<text transform="translate(94.50 1066.50) scale(0.8350 1)" font-size="25.6" text-anchor="middle" fill="#000" fill-opacity="0.78">0.001</text>
<text transform="translate(180.80 1066.50) scale(0.8350 1)" font-size="25.6" text-anchor="middle" fill="#000" fill-opacity="0.78">0.001</text>
<text transform="translate(259.65 1066.50) scale(0.8350 1)" font-size="25.6" text-anchor="middle" fill="#000" fill-opacity="0.85">0.033</text>
<text transform="translate(339.45 1066.50) scale(0.8350 1)" font-size="25.6" text-anchor="middle" fill="#000" fill-opacity="0.8">3.646</text>
<rect x="54.00" y="949.00" width="324.20" height="408.30" fill="none" stroke="#000" stroke-width="2"/>
<text transform="translate(383.20 973.30) scale(0.8370 1)" font-size="25.3" text-anchor="start" fill="#0d0dc0">GDIR &amp; NIS</text>
<text transform="translate(383.20 1004.40) scale(0.8370 1)" font-size="25.3" text-anchor="start" fill="#0d0dc0">GDIR &amp; NIS</text>
<text transform="translate(383.20 1035.50) scale(0.8370 1)" font-size="25.3" text-anchor="start" fill="#0d0dc0">GDIR &amp; NIS</text>
<text transform="translate(383.20 1066.60) scale(0.8370 1)" font-size="25.3" text-anchor="start" fill="#0d0dc0">GDIR &amp; NIS</text>
<rect x="522" y="949" width="79" height="408" fill="#000000"/>
<rect x="609" y="949" width="79" height="408" fill="#000000"/>
<rect x="688" y="949" width="79" height="31" fill="#fe0208"/>
<rect x="688" y="980" width="79" height="377" fill="#fc5006"/>
<rect x="767" y="949" width="76" height="408" fill="#fc5006"/>
<text transform="translate(728.75 972.80) scale(0.8350 1)" font-size="25.6" text-anchor="middle" fill="#000" fill-opacity="0.78">0.007</text>
<text transform="translate(806.50 972.80) scale(0.8350 1)" font-size="25.6" text-anchor="middle" fill="#000" fill-opacity="0.85">0.019</text>
<text transform="translate(728.75 1004.25) scale(0.8350 1)" font-size="25.6" text-anchor="middle" fill="#000" fill-opacity="0.85">0.015</text>
<text transform="translate(806.50 1004.25) scale(0.8350 1)" font-size="25.6" text-anchor="middle" fill="#000" fill-opacity="0.85">0.065</text>
<text transform="translate(728.75 1035.70) scale(0.8350 1)" font-size="25.6" text-anchor="middle" fill="#000" fill-opacity="0.85">0.015</text>
<text transform="translate(806.50 1035.70) scale(0.8350 1)" font-size="25.6" text-anchor="middle" fill="#000" fill-opacity="0.85">0.049</text>
<text transform="translate(728.75 1067.15) scale(0.8350 1)" font-size="25.6" text-anchor="middle" fill="#000" fill-opacity="0.85">0.015</text>
<text transform="translate(806.50 1067.15) scale(0.8350 1)" font-size="25.6" text-anchor="middle" fill="#000" fill-opacity="0.85">0.038</text>
<text transform="translate(728.75 1098.60) scale(0.8350 1)" font-size="25.6" text-anchor="middle" fill="#000" fill-opacity="0.85">0.02</text>
<text transform="translate(806.50 1098.60) scale(0.8350 1)" font-size="25.6" text-anchor="middle" fill="#000" fill-opacity="0.85">0.075</text>
<text transform="translate(728.75 1130.05) scale(0.8350 1)" font-size="25.6" text-anchor="middle" fill="#000" fill-opacity="0.85">0.02</text>
<text transform="translate(806.50 1130.05) scale(0.8350 1)" font-size="25.6" text-anchor="middle" fill="#000" fill-opacity="0.85">0.064</text>
<text transform="translate(728.75 1161.50) scale(0.8350 1)" font-size="25.6" text-anchor="middle" fill="#000" fill-opacity="0.85">0.02</text>
<text transform="translate(806.50 1161.50) scale(0.8350 1)" font-size="25.6" text-anchor="middle" fill="#000" fill-opacity="0.85">0.053</text>
<text transform="translate(728.75 1192.95) scale(0.8350 1)" font-size="25.6" text-anchor="middle" fill="#000" fill-opacity="0.85">0.024</text>
<text transform="translate(806.50 1192.95) scale(0.8350 1)" font-size="25.6" text-anchor="middle" fill="#000" fill-opacity="0.85">0.081</text>
<text transform="translate(728.75 1224.40) scale(0.8350 1)" font-size="25.6" text-anchor="middle" fill="#000" fill-opacity="0.85">0.028</text>
<text transform="translate(806.50 1224.40) scale(0.8350 1)" font-size="25.6" text-anchor="middle" fill="#000" fill-opacity="0.85">0.087</text>
<text transform="translate(728.75 1255.85) scale(0.8350 1)" font-size="25.6" text-anchor="middle" fill="#000" fill-opacity="0.85">0.02</text>
<text transform="translate(806.50 1255.85) scale(0.8350 1)" font-size="25.6" text-anchor="middle" fill="#000" fill-opacity="0.85">0.064</text>
<text transform="translate(728.75 1287.30) scale(0.8350 1)" font-size="25.6" text-anchor="middle" fill="#000" fill-opacity="0.85">0.02</text>
<text transform="translate(806.50 1287.30) scale(0.8350 1)" font-size="25.6" text-anchor="middle" fill="#000" fill-opacity="0.85">0.053</text>
<text transform="translate(728.75 1318.75) scale(0.8350 1)" font-size="25.6" text-anchor="middle" fill="#000" fill-opacity="0.85">0.024</text>
<text transform="translate(806.50 1318.75) scale(0.8350 1)" font-size="25.6" text-anchor="middle" fill="#000" fill-opacity="0.85">0.081</text>
<text transform="translate(728.75 1350.20) scale(0.8350 1)" font-size="25.6" text-anchor="middle" fill="#000" fill-opacity="0.85">0.028</text>
<text transform="translate(806.50 1350.20) scale(0.8350 1)" font-size="25.6" text-anchor="middle" fill="#000" fill-opacity="0.85">0.087</text>
<rect x="522.30" y="948.60" width="320.70" height="409.20" fill="none" stroke="#000" stroke-width="2"/>
<text transform="translate(848.00 970.90) scale(0.8370 1)" font-size="25.3" text-anchor="start" fill="#000">GDIR &amp; <tspan fill="#e0101a">S</tspan>IS</text>
<text transform="translate(848.00 1002.35) scale(0.8370 1)" font-size="25.3" text-anchor="start" fill="#000">GDIR &amp; <tspan fill="#e0101a">S</tspan>IS</text>
<text transform="translate(848.00 1033.80) scale(0.8370 1)" font-size="25.3" text-anchor="start" fill="#000">GDIR &amp; <tspan fill="#e0101a">S</tspan>IS</text>
<text transform="translate(848.00 1065.25) scale(0.8370 1)" font-size="25.3" text-anchor="start" fill="#000">GDIR &amp; <tspan fill="#e0101a">S</tspan>IS</text>
<text transform="translate(848.00 1096.70) scale(0.8370 1)" font-size="25.3" text-anchor="start" fill="#000">GDIR &amp; <tspan fill="#e0101a">S</tspan>IS</text>
<text transform="translate(848.00 1128.15) scale(0.8370 1)" font-size="25.3" text-anchor="start" fill="#000">GDIR &amp; <tspan fill="#e0101a">S</tspan>IS</text>
<text transform="translate(848.00 1159.60) scale(0.8370 1)" font-size="25.3" text-anchor="start" fill="#000">GDIR &amp; <tspan fill="#e0101a">S</tspan>IS</text>
<text transform="translate(848.00 1191.05) scale(0.8370 1)" font-size="25.3" text-anchor="start" fill="#000">GDIR &amp; <tspan fill="#e0101a">S</tspan>IS</text>
<text transform="translate(848.00 1222.50) scale(0.8370 1)" font-size="25.3" text-anchor="start" fill="#000">GDIR &amp; <tspan fill="#e0101a">S</tspan>IS</text>
<text transform="translate(848.00 1253.95) scale(0.8370 1)" font-size="25.3" text-anchor="start" fill="#000">GDIR &amp; <tspan fill="#e0101a">S</tspan>IS</text>
<text transform="translate(848.00 1285.40) scale(0.8370 1)" font-size="25.3" text-anchor="start" fill="#000">GDIR &amp; <tspan fill="#e0101a">S</tspan>IS</text>
<text transform="translate(848.00 1316.85) scale(0.8370 1)" font-size="25.3" text-anchor="start" fill="#000">GDIR &amp; <tspan fill="#e0101a">S</tspan>IS</text>
<text transform="translate(848.00 1348.30) scale(0.8370 1)" font-size="25.3" text-anchor="start" fill="#000">GDIR &amp; <tspan fill="#e0101a">S</tspan>IS</text>
<rect x="54" y="1388" width="78" height="158" fill="#fe0208"/>
<rect x="140" y="1388" width="79" height="158" fill="#fe0208"/>
<rect x="219" y="1388" width="79" height="94" fill="#fc5006"/>
<rect x="219" y="1482" width="79" height="64" fill="#ffff14"/>
<rect x="298" y="1388" width="80" height="126" fill="#fe0208"/>
<rect x="298" y="1514" width="80" height="32" fill="#fc5006"/>
<text transform="translate(94.50 1413.20) scale(0.8099 1)" font-size="25.6" text-anchor="middle" fill="#000" fill-opacity="0.78">&lt;0.023</text>
<text transform="translate(180.80 1413.20) scale(0.8099 1)" font-size="25.6" text-anchor="middle" fill="#000" fill-opacity="0.78">&lt;0.023</text>
<text transform="translate(259.65 1413.20) scale(0.8350 1)" font-size="25.6" text-anchor="middle" fill="#000" fill-opacity="0.85">0.04</text>
<text transform="translate(339.45 1413.20) scale(0.8099 1)" font-size="25.6" text-anchor="middle" fill="#000" fill-opacity="0.78">&lt;0.023</text>
<text transform="translate(94.50 1444.70) scale(0.8099 1)" font-size="25.6" text-anchor="middle" fill="#000" fill-opacity="0.78">&lt;0.023</text>
<text transform="translate(180.80 1444.70) scale(0.8099 1)" font-size="25.6" text-anchor="middle" fill="#000" fill-opacity="0.78">&lt;0.023</text>
<text transform="translate(259.65 1444.70) scale(0.8350 1)" font-size="25.6" text-anchor="middle" fill="#000" fill-opacity="0.85">0.059</text>
<text transform="translate(339.45 1444.70) scale(0.8099 1)" font-size="25.6" text-anchor="middle" fill="#000" fill-opacity="0.78">&lt;0.023</text>
<text transform="translate(94.50 1476.20) scale(0.8099 1)" font-size="25.6" text-anchor="middle" fill="#000" fill-opacity="0.78">&lt;0.023</text>
<text transform="translate(180.80 1476.20) scale(0.8099 1)" font-size="25.6" text-anchor="middle" fill="#000" fill-opacity="0.78">&lt;0.023</text>
<text transform="translate(259.65 1476.20) scale(0.8350 1)" font-size="25.6" text-anchor="middle" fill="#000" fill-opacity="0.85">0.073</text>
<text transform="translate(339.45 1476.20) scale(0.8099 1)" font-size="25.6" text-anchor="middle" fill="#000" fill-opacity="0.78">&lt;0.023</text>
<text transform="translate(94.50 1507.70) scale(0.8099 1)" font-size="25.6" text-anchor="middle" fill="#000" fill-opacity="0.78">&lt;0.023</text>
<text transform="translate(180.80 1507.70) scale(0.8099 1)" font-size="25.6" text-anchor="middle" fill="#000" fill-opacity="0.78">&lt;0.023</text>
<text transform="translate(259.65 1507.70) scale(0.8350 1)" font-size="25.6" text-anchor="middle" fill="#000" fill-opacity="0.95">0.12</text>
<text transform="translate(339.45 1507.70) scale(0.8099 1)" font-size="25.6" text-anchor="middle" fill="#000" fill-opacity="0.78">&lt;0.023</text>
<text transform="translate(94.50 1539.20) scale(0.8099 1)" font-size="25.6" text-anchor="middle" fill="#000" fill-opacity="0.78">&lt;0.023</text>
<text transform="translate(180.80 1539.20) scale(0.8099 1)" font-size="25.6" text-anchor="middle" fill="#000" fill-opacity="0.78">&lt;0.023</text>
<text transform="translate(259.65 1539.20) scale(0.8350 1)" font-size="25.6" text-anchor="middle" fill="#000" fill-opacity="0.95">0.12</text>
<text transform="translate(339.45 1539.20) scale(0.8350 1)" font-size="25.6" text-anchor="middle" fill="#000" fill-opacity="0.85">0.033</text>
<rect x="54.00" y="1388.00" width="324.20" height="157.70" fill="none" stroke="#000" stroke-width="2"/>
<text transform="translate(383.20 1413.30) scale(0.8370 1)" font-size="25.3" text-anchor="start" fill="#0d0dc0">GDIR &amp; NIS</text>
<text transform="translate(383.20 1444.80) scale(0.8370 1)" font-size="25.3" text-anchor="start" fill="#0d0dc0">GDIR &amp; NIS</text>
<text transform="translate(383.20 1476.30) scale(0.8370 1)" font-size="25.3" text-anchor="start" fill="#0d0dc0">GDIR &amp; NIS</text>
<text transform="translate(383.20 1507.80) scale(0.8370 1)" font-size="25.3" text-anchor="start" fill="#0d0dc0">GDIR &amp; NIS</text>
<text transform="translate(383.20 1539.30) scale(0.8370 1)" font-size="25.3" text-anchor="start" fill="#0d0dc0">GDIR &amp; NIS</text>
<rect x="522" y="1388" width="79" height="158" fill="#000000"/>
<rect x="609" y="1388" width="79" height="158" fill="#000000"/>
<rect x="688" y="1388" width="79" height="158" fill="#fc5006"/>
<rect x="767" y="1388" width="76" height="32" fill="#fc5006"/>
<rect x="767" y="1420" width="76" height="31" fill="#fe0208"/>
<rect x="767" y="1451" width="76" height="95" fill="#fc5006"/>
<text transform="translate(728.75 1412.90) scale(0.8350 1)" font-size="25.6" text-anchor="middle" fill="#000" fill-opacity="0.85">0.021</text>
<text transform="translate(806.50 1412.90) scale(0.8350 1)" font-size="25.6" text-anchor="middle" fill="#000" fill-opacity="0.85">0.018</text>
<text transform="translate(728.75 1444.40) scale(0.8350 1)" font-size="25.6" text-anchor="middle" fill="#000" fill-opacity="0.85">0.021</text>
<text transform="translate(806.50 1444.40) scale(0.8350 1)" font-size="25.6" text-anchor="middle" fill="#000" fill-opacity="0.78">0.009</text>
<text transform="translate(728.75 1475.90) scale(0.8350 1)" font-size="25.6" text-anchor="middle" fill="#000" fill-opacity="0.85">0.032</text>
<text transform="translate(806.50 1475.90) scale(0.8350 1)" font-size="25.6" text-anchor="middle" fill="#000" fill-opacity="0.85">0.019</text>
<text transform="translate(728.75 1507.40) scale(0.8350 1)" font-size="25.6" text-anchor="middle" fill="#000" fill-opacity="0.85">0.037</text>
<text transform="translate(806.50 1507.40) scale(0.8350 1)" font-size="25.6" text-anchor="middle" fill="#000" fill-opacity="0.85">0.013</text>
<text transform="translate(728.75 1538.90) scale(0.8350 1)" font-size="25.6" text-anchor="middle" fill="#000" fill-opacity="0.85">0.044</text>
<text transform="translate(806.50 1538.90) scale(0.8350 1)" font-size="25.6" text-anchor="middle" fill="#000" fill-opacity="0.85">0.019</text>
<rect x="522.30" y="1388.00" width="320.70" height="157.70" fill="none" stroke="#000" stroke-width="2"/>
<text transform="translate(848.00 1410.30) scale(0.8370 1)" font-size="25.3" text-anchor="start" fill="#000">GDIR &amp; NI<tspan fill="#e0101a">N</tspan></text>
<text transform="translate(848.00 1441.80) scale(0.8370 1)" font-size="25.3" text-anchor="start" fill="#000">GDIR &amp; NI<tspan fill="#e0101a">N</tspan></text>
<text transform="translate(848.00 1473.30) scale(0.8370 1)" font-size="25.3" text-anchor="start" fill="#000">GDIR &amp; NI<tspan fill="#e0101a">N</tspan></text>
<text transform="translate(848.00 1504.80) scale(0.8370 1)" font-size="25.3" text-anchor="start" fill="#000">G<tspan fill="#e0101a">E</tspan>IR &amp; NI<tspan fill="#e0101a">N</tspan></text>
<text transform="translate(848.00 1536.30) scale(0.8370 1)" font-size="25.3" text-anchor="start" fill="#000">GDIR &amp; NI<tspan fill="#e0101a">N</tspan></text>
<rect x="54" y="1664" width="79" height="96" fill="#fe0208"/>
<rect x="141" y="1664" width="81" height="96" fill="#fe0208"/>
<rect x="222" y="1664" width="80" height="96" fill="#fc5006"/>
<rect x="302" y="1664" width="82" height="32" fill="#fc5006"/>
<rect x="302" y="1696" width="82" height="32" fill="#fe0208"/>
<rect x="302" y="1728" width="82" height="32" fill="#fc5006"/>
<text transform="translate(93.05 1688.60) scale(0.8860 1)" font-size="22.3" text-anchor="middle" fill="#000" fill-opacity="0.78" stroke="#000" stroke-width="0.35">0.001</text>
<text transform="translate(180.95 1688.60) scale(0.8860 1)" font-size="22.3" text-anchor="middle" fill="#000" fill-opacity="0.78" stroke="#000" stroke-width="0.35">0.006</text>
<text transform="translate(261.60 1688.60) scale(0.8860 1)" font-size="22.3" text-anchor="middle" fill="#000" fill-opacity="0.85" stroke="#000" stroke-width="0.35">0.036</text>
<text transform="translate(342.80 1688.60) scale(0.8860 1)" font-size="22.3" text-anchor="middle" fill="#000" fill-opacity="0.85" stroke="#000" stroke-width="0.35">0.012</text>
<text transform="translate(93.05 1721.05) scale(0.8860 1)" font-size="22.3" text-anchor="middle" fill="#000" fill-opacity="0.78" stroke="#000" stroke-width="0.35">0.001</text>
<text transform="translate(180.95 1721.05) scale(0.8860 1)" font-size="22.3" text-anchor="middle" fill="#000" fill-opacity="0.78" stroke="#000" stroke-width="0.35">0.004</text>
<text transform="translate(261.60 1721.05) scale(0.8860 1)" font-size="22.3" text-anchor="middle" fill="#000" fill-opacity="0.85" stroke="#000" stroke-width="0.35">0.065</text>
<text transform="translate(342.80 1721.05) scale(0.8860 1)" font-size="22.3" text-anchor="middle" fill="#000" fill-opacity="0.78" stroke="#000" stroke-width="0.35">0.003</text>
<text transform="translate(93.05 1753.50) scale(0.8860 1)" font-size="22.3" text-anchor="middle" fill="#000" fill-opacity="0.78" stroke="#000" stroke-width="0.35">0.002</text>
<text transform="translate(180.95 1753.50) scale(0.8860 1)" font-size="22.3" text-anchor="middle" fill="#000" fill-opacity="0.78" stroke="#000" stroke-width="0.35">0.004</text>
<text transform="translate(261.60 1753.50) scale(0.8860 1)" font-size="22.3" text-anchor="middle" fill="#000" fill-opacity="0.85" stroke="#000" stroke-width="0.35">0.048</text>
<text transform="translate(342.80 1753.50) scale(0.8860 1)" font-size="22.3" text-anchor="middle" fill="#000" fill-opacity="0.85" stroke="#000" stroke-width="0.35">0.015</text>
<rect x="54.00" y="1664.00" width="329.90" height="258.50" fill="none" stroke="#000" stroke-width="2"/>
<line x1="54.00" y1="1661.00" x2="54.00" y2="1665.00" stroke="#000" stroke-width="2"/>
<line x1="383.90" y1="1661.00" x2="383.90" y2="1665.00" stroke="#000" stroke-width="2"/>
<text transform="translate(388.10 1688.60) scale(0.8200 1)" font-size="22.3" text-anchor="start" fill="#0d0dc0">GDIR &amp; NIS</text>
<text transform="translate(388.10 1721.05) scale(0.8200 1)" font-size="22.3" text-anchor="start" fill="#0d0dc0">GDIR &amp; NLS</text>
<text transform="translate(388.10 1753.50) scale(0.8200 1)" font-size="22.3" text-anchor="start" fill="#0d0dc0">GDIR &amp; NIS</text>
<rect x="520" y="1664" width="80" height="259" fill="#000000"/>
<rect x="609" y="1664" width="80" height="259" fill="#000000"/>
<rect x="689" y="1664" width="81" height="259" fill="#fc5006"/>
<rect x="770" y="1664" width="82" height="259" fill="#fc5006"/>
<text transform="translate(729.05 1688.00) scale(0.8860 1)" font-size="22.3" text-anchor="middle" fill="#000" fill-opacity="0.85" stroke="#000" stroke-width="0.35">0.042</text>
<text transform="translate(810.60 1688.00) scale(0.8860 1)" font-size="22.3" text-anchor="middle" fill="#000" fill-opacity="0.85" stroke="#000" stroke-width="0.35">0.021</text>
<text transform="translate(729.05 1720.35) scale(0.8860 1)" font-size="22.3" text-anchor="middle" fill="#000" fill-opacity="0.85" stroke="#000" stroke-width="0.35">0.047</text>
<text transform="translate(810.60 1720.35) scale(0.8860 1)" font-size="22.3" text-anchor="middle" fill="#000" fill-opacity="0.85" stroke="#000" stroke-width="0.35">0.016</text>
<text transform="translate(729.05 1752.70) scale(0.8860 1)" font-size="22.3" text-anchor="middle" fill="#000" fill-opacity="0.85" stroke="#000" stroke-width="0.35">0.047</text>
<text transform="translate(810.60 1752.70) scale(0.8860 1)" font-size="22.3" text-anchor="middle" fill="#000" fill-opacity="0.85" stroke="#000" stroke-width="0.35">0.016</text>
<text transform="translate(729.05 1785.05) scale(0.8860 1)" font-size="22.3" text-anchor="middle" fill="#000" fill-opacity="0.85" stroke="#000" stroke-width="0.35">0.051</text>
<text transform="translate(810.60 1785.05) scale(0.8860 1)" font-size="22.3" text-anchor="middle" fill="#000" fill-opacity="0.85" stroke="#000" stroke-width="0.35">0.014</text>
<text transform="translate(729.05 1817.40) scale(0.8860 1)" font-size="22.3" text-anchor="middle" fill="#000" fill-opacity="0.85" stroke="#000" stroke-width="0.35">0.053</text>
<text transform="translate(810.60 1817.40) scale(0.8860 1)" font-size="22.3" text-anchor="middle" fill="#000" fill-opacity="0.85" stroke="#000" stroke-width="0.35">0.014</text>
<text transform="translate(729.05 1849.75) scale(0.8860 1)" font-size="22.3" text-anchor="middle" fill="#000" fill-opacity="0.85" stroke="#000" stroke-width="0.35">0.065</text>
<text transform="translate(810.60 1849.75) scale(0.8860 1)" font-size="22.3" text-anchor="middle" fill="#000" fill-opacity="0.85" stroke="#000" stroke-width="0.35">0.013</text>
<text transform="translate(729.05 1882.10) scale(0.8860 1)" font-size="22.3" text-anchor="middle" fill="#000" fill-opacity="0.85" stroke="#000" stroke-width="0.35">0.073</text>
<text transform="translate(810.60 1882.10) scale(0.8860 1)" font-size="22.3" text-anchor="middle" fill="#000" fill-opacity="0.85" stroke="#000" stroke-width="0.35">0.025</text>
<text transform="translate(729.05 1914.45) scale(0.8860 1)" font-size="22.3" text-anchor="middle" fill="#000" fill-opacity="0.85" stroke="#000" stroke-width="0.35">0.096</text>
<text transform="translate(810.60 1914.45) scale(0.8860 1)" font-size="22.3" text-anchor="middle" fill="#000" fill-opacity="0.85" stroke="#000" stroke-width="0.35">0.018</text>
<rect x="520.40" y="1664.00" width="331.60" height="259.00" fill="none" stroke="#000" stroke-width="2"/>
<line x1="520.40" y1="1661.00" x2="520.40" y2="1665.00" stroke="#000" stroke-width="2"/>
<line x1="852.00" y1="1661.00" x2="852.00" y2="1665.00" stroke="#000" stroke-width="2"/>
<text transform="translate(856.20 1688.00) scale(0.8200 1)" font-size="22.3" text-anchor="start" fill="#000">GDIR &amp; <tspan fill="#e0101a">T</tspan>I<tspan fill="#e0101a">N</tspan></text>
<text transform="translate(856.20 1720.35) scale(0.8200 1)" font-size="22.3" text-anchor="start" fill="#000">GDIR &amp; <tspan fill="#e0101a">T</tspan>I<tspan fill="#e0101a">N</tspan></text>
<text transform="translate(856.20 1752.70) scale(0.8200 1)" font-size="22.3" text-anchor="start" fill="#000">GDIR &amp; <tspan fill="#e0101a">T</tspan>I<tspan fill="#e0101a">N</tspan></text>
<text transform="translate(856.20 1785.05) scale(0.8200 1)" font-size="22.3" text-anchor="start" fill="#000">GDIR &amp; <tspan fill="#e0101a">T</tspan>I<tspan fill="#e0101a">N</tspan></text>
<text transform="translate(856.20 1817.40) scale(0.8200 1)" font-size="22.3" text-anchor="start" fill="#000">GDIR &amp; <tspan fill="#e0101a">T</tspan>I<tspan fill="#e0101a">N</tspan></text>
<text transform="translate(856.20 1849.75) scale(0.8200 1)" font-size="22.3" text-anchor="start" fill="#000">GDIR &amp; <tspan fill="#e0101a">T</tspan>I<tspan fill="#e0101a">N</tspan></text>
<text transform="translate(856.20 1882.10) scale(0.8200 1)" font-size="22.3" text-anchor="start" fill="#000">GDIR &amp; <tspan fill="#e0101a">T</tspan>I<tspan fill="#e0101a">N</tspan></text>
<text transform="translate(856.20 1914.45) scale(0.8200 1)" font-size="22.3" text-anchor="start" fill="#000">GDIR &amp; <tspan fill="#e0101a">T</tspan>I<tspan fill="#e0101a">N</tspan></text>
<rect x="54" y="1954" width="79" height="33" fill="#fe0208"/>
<rect x="54" y="1987" width="79" height="65" fill="#fc5006"/>
<rect x="141" y="1954" width="81" height="33" fill="#fe0208"/>
<rect x="141" y="1987" width="81" height="65" fill="#fc5006"/>
<rect x="222" y="1954" width="80" height="65" fill="#fe0208"/>
<rect x="222" y="2019" width="80" height="33" fill="#fc5006"/>
<rect x="302" y="1954" width="82" height="98" fill="#fc5006"/>
<text transform="translate(93.05 1978.20) scale(0.8860 1)" font-size="22.3" text-anchor="middle" fill="#000" fill-opacity="0.78" stroke="#000" stroke-width="0.35">0.003</text>
<text transform="translate(180.95 1978.20) scale(0.8860 1)" font-size="22.3" text-anchor="middle" fill="#000" fill-opacity="0.78" stroke="#000" stroke-width="0.35">0.003</text>
<text transform="translate(261.60 1978.20) scale(0.8860 1)" font-size="22.3" text-anchor="middle" fill="#000" fill-opacity="0.78" stroke="#000" stroke-width="0.35">0.002</text>
<text transform="translate(342.80 1978.20) scale(0.8860 1)" font-size="22.3" text-anchor="middle" fill="#000" fill-opacity="0.85" stroke="#000" stroke-width="0.35">0.031</text>
<text transform="translate(93.05 2010.70) scale(0.8860 1)" font-size="22.3" text-anchor="middle" fill="#000" fill-opacity="0.85" stroke="#000" stroke-width="0.35">0.01</text>
<text transform="translate(180.95 2010.70) scale(0.8860 1)" font-size="22.3" text-anchor="middle" fill="#000" fill-opacity="0.85" stroke="#000" stroke-width="0.35">0.032</text>
<text transform="translate(261.60 2010.70) scale(0.8860 1)" font-size="22.3" text-anchor="middle" fill="#000" fill-opacity="0.78" stroke="#000" stroke-width="0.35">0.005</text>
<text transform="translate(342.80 2010.70) scale(0.8860 1)" font-size="22.3" text-anchor="middle" fill="#000" fill-opacity="0.85" stroke="#000" stroke-width="0.35">0.079</text>
<text transform="translate(93.05 2043.20) scale(0.8860 1)" font-size="22.3" text-anchor="middle" fill="#000" fill-opacity="0.85" stroke="#000" stroke-width="0.35">0.017</text>
<text transform="translate(180.95 2043.20) scale(0.8860 1)" font-size="22.3" text-anchor="middle" fill="#000" fill-opacity="0.85" stroke="#000" stroke-width="0.35">0.093</text>
<text transform="translate(261.60 2043.20) scale(0.8860 1)" font-size="22.3" text-anchor="middle" fill="#000" fill-opacity="0.85" stroke="#000" stroke-width="0.35">0.01</text>
<text transform="translate(342.80 2043.20) scale(0.8860 1)" font-size="22.3" text-anchor="middle" fill="#000" fill-opacity="0.85" stroke="#000" stroke-width="0.35">0.097</text>
<rect x="54.00" y="1954.20" width="329.90" height="97.60" fill="none" stroke="#000" stroke-width="2"/>
<text transform="translate(388.10 1978.20) scale(0.8200 1)" font-size="22.3" text-anchor="start" fill="#0d0dc0">GDIR &amp; NIT</text>
<text transform="translate(388.10 2010.70) scale(0.8200 1)" font-size="22.3" text-anchor="start" fill="#0d0dc0">GDIR &amp; NIT</text>
<text transform="translate(388.10 2043.20) scale(0.8200 1)" font-size="22.3" text-anchor="start" fill="#0d0dc0">GDIR &amp; NIT</text>
<rect x="520" y="1954" width="80" height="64" fill="#000000"/>
<rect x="609" y="1954" width="80" height="64" fill="#000000"/>
<rect x="689" y="1954" width="81" height="32" fill="#fe0208"/>
<rect x="689" y="1986" width="81" height="32" fill="#fc5006"/>
<rect x="770" y="1954" width="82" height="64" fill="#fc5006"/>
<text transform="translate(729.05 1978.20) scale(0.8860 1)" font-size="22.3" text-anchor="middle" fill="#000" fill-opacity="0.78" stroke="#000" stroke-width="0.35">0.008</text>
<text transform="translate(810.60 1978.20) scale(0.8860 1)" font-size="22.3" text-anchor="middle" fill="#000" fill-opacity="0.85" stroke="#000" stroke-width="0.35">0.044</text>
<text transform="translate(729.05 2010.20) scale(0.8860 1)" font-size="22.3" text-anchor="middle" fill="#000" fill-opacity="0.85" stroke="#000" stroke-width="0.35">0.02</text>
<text transform="translate(810.60 2010.20) scale(0.8860 1)" font-size="22.3" text-anchor="middle" fill="#000" fill-opacity="0.85" stroke="#000" stroke-width="0.35">0.043</text>
<rect x="520.40" y="1954.20" width="331.60" height="97.60" fill="none" stroke="#000" stroke-width="2"/>
<text transform="translate(856.20 1978.20) scale(0.8200 1)" font-size="22.3" text-anchor="start" fill="#000">G<tspan fill="#e0101a">K</tspan>IR &amp; NIT</text>
<text transform="translate(856.20 2010.20) scale(0.8200 1)" font-size="22.3" text-anchor="start" fill="#000">G<tspan fill="#e0101a">K</tspan>IR &amp; NIT</text>
<rect x="54" y="2084" width="79" height="96" fill="#fc5006"/>
<rect x="54" y="2180" width="79" height="32" fill="#ffff14"/>
<rect x="141" y="2084" width="81" height="64" fill="#fc5006"/>
<rect x="141" y="2148" width="81" height="64" fill="#ffff14"/>
<rect x="222" y="2084" width="80" height="96" fill="#fc5006"/>
<rect x="222" y="2180" width="80" height="32" fill="#ffff14"/>
<rect x="302" y="2084" width="82" height="64" fill="#fc5006"/>
<rect x="302" y="2148" width="82" height="64" fill="#ffff14"/>
<text transform="translate(93.05 2107.80) scale(0.8860 1)" font-size="22.3" text-anchor="middle" fill="#000" fill-opacity="0.85" stroke="#000" stroke-width="0.35">0.036</text>
<text transform="translate(180.95 2107.80) scale(0.8860 1)" font-size="22.3" text-anchor="middle" fill="#000" fill-opacity="0.85" stroke="#000" stroke-width="0.35">0.03</text>
<text transform="translate(261.60 2107.80) scale(0.8860 1)" font-size="22.3" text-anchor="middle" fill="#000" fill-opacity="0.85" stroke="#000" stroke-width="0.35">0.018</text>
<text transform="translate(342.80 2107.80) scale(0.8860 1)" font-size="22.3" text-anchor="middle" fill="#000" fill-opacity="0.85" stroke="#000" stroke-width="0.35">0.03</text>
<text transform="translate(93.05 2140.20) scale(0.8860 1)" font-size="22.3" text-anchor="middle" fill="#000" fill-opacity="0.85" stroke="#000" stroke-width="0.35">0.074</text>
<text transform="translate(180.95 2140.20) scale(0.8860 1)" font-size="22.3" text-anchor="middle" fill="#000" fill-opacity="0.85" stroke="#000" stroke-width="0.35">0.052</text>
<text transform="translate(261.60 2140.20) scale(0.8860 1)" font-size="22.3" text-anchor="middle" fill="#000" fill-opacity="0.85" stroke="#000" stroke-width="0.35">0.057</text>
<text transform="translate(342.80 2140.20) scale(0.8860 1)" font-size="22.3" text-anchor="middle" fill="#000" fill-opacity="0.85" stroke="#000" stroke-width="0.35">0.072</text>
<text transform="translate(93.05 2172.60) scale(0.8860 1)" font-size="22.3" text-anchor="middle" fill="#000" fill-opacity="0.85" stroke="#000" stroke-width="0.35">0.076</text>
<text transform="translate(180.95 2172.60) scale(0.8860 1)" font-size="22.3" text-anchor="middle" fill="#000" fill-opacity="0.95" stroke="#000" stroke-width="0.35">0.21</text>
<text transform="translate(261.60 2172.60) scale(0.8860 1)" font-size="22.3" text-anchor="middle" fill="#000" fill-opacity="0.85" stroke="#000" stroke-width="0.35">0.074</text>
<text transform="translate(342.80 2172.60) scale(0.8860 1)" font-size="22.3" text-anchor="middle" fill="#000" fill-opacity="0.95" stroke="#000" stroke-width="0.35">0.192</text>
<text transform="translate(93.05 2205.00) scale(0.8860 1)" font-size="22.3" text-anchor="middle" fill="#000" fill-opacity="0.95" stroke="#000" stroke-width="0.35">0.125</text>
<text transform="translate(180.95 2205.00) scale(0.8860 1)" font-size="22.3" text-anchor="middle" fill="#000" fill-opacity="0.95" stroke="#000" stroke-width="0.35">0.238</text>
<text transform="translate(261.60 2205.00) scale(0.8860 1)" font-size="22.3" text-anchor="middle" fill="#000" fill-opacity="0.95" stroke="#000" stroke-width="0.35">0.105</text>
<text transform="translate(342.80 2205.00) scale(0.8860 1)" font-size="22.3" text-anchor="middle" fill="#000" fill-opacity="0.95" stroke="#000" stroke-width="0.35">0.251</text>
<rect x="54.00" y="2083.80" width="329.90" height="322.90" fill="none" stroke="#000" stroke-width="2"/>
<text transform="translate(388.10 2107.80) scale(0.8200 1)" font-size="22.3" text-anchor="start" fill="#0d0dc0">GDIR &amp; NIS</text>
<text transform="translate(388.10 2140.20) scale(0.8200 1)" font-size="22.3" text-anchor="start" fill="#0d0dc0">GDIR &amp; NIS</text>
<text transform="translate(388.10 2172.60) scale(0.8200 1)" font-size="22.3" text-anchor="start" fill="#0d0dc0">GDIR &amp; NIS</text>
<text transform="translate(388.10 2205.00) scale(0.8200 1)" font-size="22.3" text-anchor="start" fill="#0d0dc0">GDIR &amp; NIS</text>
<rect x="520" y="2083" width="80" height="33" fill="#fc5006"/>
<rect x="520" y="2116" width="80" height="64" fill="#ffff14"/>
<rect x="520" y="2180" width="80" height="227" fill="#000000"/>
<rect x="609" y="2083" width="80" height="33" fill="#ffff14"/>
<rect x="609" y="2116" width="80" height="32" fill="#fc5006"/>
<rect x="609" y="2148" width="80" height="32" fill="#ffff14"/>
<rect x="609" y="2180" width="80" height="227" fill="#000000"/>
<rect x="689" y="2083" width="81" height="130" fill="#ffff14"/>
<rect x="689" y="2213" width="81" height="129" fill="#fc5006"/>
<rect x="689" y="2342" width="81" height="65" fill="#ffff14"/>
<rect x="770" y="2083" width="82" height="33" fill="#fc5006"/>
<rect x="770" y="2116" width="82" height="32" fill="#ffff14"/>
<rect x="770" y="2148" width="82" height="32" fill="#fc5006"/>
<rect x="770" y="2213" width="82" height="194" fill="#fc5006"/>
<text transform="translate(559.95 2107.20) scale(0.8860 1)" font-size="22.3" text-anchor="middle" fill="#000" fill-opacity="0.85" stroke="#000" stroke-width="0.35">0.089</text>
<text transform="translate(648.35 2107.20) scale(0.8860 1)" font-size="22.3" text-anchor="middle" fill="#000" fill-opacity="0.95" stroke="#000" stroke-width="0.35">0.103</text>
<text transform="translate(729.05 2107.20) scale(0.8860 1)" font-size="22.3" text-anchor="middle" fill="#000" fill-opacity="0.95" stroke="#000" stroke-width="0.35">0.103</text>
<text transform="translate(810.60 2107.20) scale(0.8860 1)" font-size="22.3" text-anchor="middle" fill="#000" fill-opacity="0.85" stroke="#000" stroke-width="0.35">0.052</text>
<text transform="translate(559.95 2139.55) scale(0.8860 1)" font-size="22.3" text-anchor="middle" fill="#000" fill-opacity="0.95" stroke="#000" stroke-width="0.35">0.116</text>
<text transform="translate(648.35 2139.55) scale(0.8860 1)" font-size="22.3" text-anchor="middle" fill="#000" fill-opacity="0.85" stroke="#000" stroke-width="0.35">0.098</text>
<text transform="translate(729.05 2139.55) scale(0.8860 1)" font-size="22.3" text-anchor="middle" fill="#000" fill-opacity="0.95" stroke="#000" stroke-width="0.35">0.201</text>
<text transform="translate(810.60 2139.55) scale(0.8860 1)" font-size="22.3" text-anchor="middle" fill="#000" fill-opacity="0.95" stroke="#000" stroke-width="0.35">0.108</text>
<text transform="translate(559.95 2171.90) scale(0.8860 1)" font-size="22.3" text-anchor="middle" fill="#000" fill-opacity="0.95" stroke="#000" stroke-width="0.35">0.124</text>
<text transform="translate(648.35 2171.90) scale(0.8860 1)" font-size="22.3" text-anchor="middle" fill="#000" fill-opacity="0.95" stroke="#000" stroke-width="0.35">0.123</text>
<text transform="translate(729.05 2171.90) scale(0.8860 1)" font-size="22.3" text-anchor="middle" fill="#000" fill-opacity="0.95" stroke="#000" stroke-width="0.35">0.261</text>
<text transform="translate(810.60 2171.90) scale(0.8860 1)" font-size="22.3" text-anchor="middle" fill="#000" fill-opacity="0.85" stroke="#000" stroke-width="0.35">0.072</text>
<text transform="translate(729.05 2204.25) scale(0.8860 1)" font-size="22.3" text-anchor="middle" fill="#000" fill-opacity="0.95" stroke="#000" stroke-width="0.35">0.111</text>
<text transform="translate(729.05 2236.60) scale(0.8860 1)" font-size="22.3" text-anchor="middle" fill="#000" fill-opacity="0.85" stroke="#000" stroke-width="0.35">0.068</text>
<text transform="translate(810.60 2236.60) scale(0.8860 1)" font-size="22.3" text-anchor="middle" fill="#000" fill-opacity="0.85" stroke="#000" stroke-width="0.35">0.082</text>
<text transform="translate(729.05 2268.95) scale(0.8860 1)" font-size="22.3" text-anchor="middle" fill="#000" fill-opacity="0.85" stroke="#000" stroke-width="0.35">0.069</text>
<text transform="translate(810.60 2268.95) scale(0.8860 1)" font-size="22.3" text-anchor="middle" fill="#000" fill-opacity="0.85" stroke="#000" stroke-width="0.35">0.054</text>
<text transform="translate(729.05 2301.30) scale(0.8860 1)" font-size="22.3" text-anchor="middle" fill="#000" fill-opacity="0.85" stroke="#000" stroke-width="0.35">0.075</text>
<text transform="translate(810.60 2301.30) scale(0.8860 1)" font-size="22.3" text-anchor="middle" fill="#000" fill-opacity="0.85" stroke="#000" stroke-width="0.35">0.015</text>
<text transform="translate(729.05 2333.65) scale(0.8860 1)" font-size="22.3" text-anchor="middle" fill="#000" fill-opacity="0.85" stroke="#000" stroke-width="0.35">0.082</text>
<text transform="translate(810.60 2333.65) scale(0.8860 1)" font-size="22.3" text-anchor="middle" fill="#000" fill-opacity="0.85" stroke="#000" stroke-width="0.35">0.097</text>
<text transform="translate(729.05 2366.00) scale(0.8860 1)" font-size="22.3" text-anchor="middle" fill="#000" fill-opacity="0.95" stroke="#000" stroke-width="0.35">0.111</text>
<text transform="translate(810.60 2366.00) scale(0.8860 1)" font-size="22.3" text-anchor="middle" fill="#000" fill-opacity="0.85" stroke="#000" stroke-width="0.35">0.046</text>
<text transform="translate(729.05 2398.35) scale(0.8860 1)" font-size="22.3" text-anchor="middle" fill="#000" fill-opacity="0.95" stroke="#000" stroke-width="0.35">0.162</text>
<text transform="translate(810.60 2398.35) scale(0.8860 1)" font-size="22.3" text-anchor="middle" fill="#000" fill-opacity="0.85" stroke="#000" stroke-width="0.35">0.093</text>
<rect x="520.40" y="2083.20" width="331.60" height="323.50" fill="none" stroke="#000" stroke-width="2"/>
<text transform="translate(856.20 2107.20) scale(0.8200 1)" font-size="22.3" text-anchor="start" fill="#0d0dc0">GDIR &amp; NIS</text>
<text transform="translate(856.20 2139.55) scale(0.8200 1)" font-size="22.3" text-anchor="start" fill="#0d0dc0">GDIR &amp; NIS</text>
<text transform="translate(856.20 2171.90) scale(0.8200 1)" font-size="22.3" text-anchor="start" fill="#0d0dc0">GDIR &amp; NIS</text>
<text transform="translate(856.20 2204.25) scale(0.8200 1)" font-size="22.3" text-anchor="start" fill="#000">GDIR &amp; NI<tspan fill="#e0101a">R</tspan></text>
<text transform="translate(856.20 2236.60) scale(0.8200 1)" font-size="22.3" text-anchor="start" fill="#000">GDIR &amp; <tspan fill="#e0101a">S</tspan>I<tspan fill="#e0101a">S</tspan></text>
<text transform="translate(856.20 2268.95) scale(0.8200 1)" font-size="22.3" text-anchor="start" fill="#000">GDIR &amp; NI<tspan fill="#e0101a">R</tspan></text>
<text transform="translate(856.20 2301.30) scale(0.8200 1)" font-size="22.3" text-anchor="start" fill="#000">GDIR &amp; NI<tspan fill="#e0101a">N</tspan></text>
<text transform="translate(856.20 2333.65) scale(0.8200 1)" font-size="22.3" text-anchor="start" fill="#000">GDIR &amp; <tspan fill="#e0101a">R</tspan>IS</text>
<text transform="translate(856.20 2366.00) scale(0.8200 1)" font-size="22.3" text-anchor="start" fill="#000">GDIR &amp; <tspan fill="#e0101a">R</tspan>IS</text>
<text transform="translate(856.20 2398.35) scale(0.8200 1)" font-size="22.3" text-anchor="start" fill="#000">GDIR &amp; NI<tspan fill="#e0101a">R</tspan></text>
<rect x="54" y="2439" width="79" height="64" fill="#fe0208"/>
<rect x="54" y="2503" width="79" height="96" fill="#700000"/>
<rect x="141" y="2439" width="81" height="96" fill="#fc5006"/>
<rect x="141" y="2535" width="81" height="64" fill="#fe0208"/>
<rect x="222" y="2439" width="80" height="160" fill="#fc5006"/>
<rect x="302" y="2439" width="82" height="160" fill="#fc5006"/>
<text transform="translate(93.05 2462.70) scale(0.8860 1)" font-size="22.3" text-anchor="middle" fill="#000" fill-opacity="0.78" stroke="#000" stroke-width="0.35">0.004</text>
<text transform="translate(180.95 2462.70) scale(0.8860 1)" font-size="22.3" text-anchor="middle" fill="#000" fill-opacity="0.85" stroke="#000" stroke-width="0.35">0.02</text>
<text transform="translate(261.60 2462.70) scale(0.8860 1)" font-size="22.3" text-anchor="middle" fill="#000" fill-opacity="0.85" stroke="#000" stroke-width="0.35">0.048</text>
<text transform="translate(342.80 2462.70) scale(0.8860 1)" font-size="22.3" text-anchor="middle" fill="#000" fill-opacity="0.85" stroke="#000" stroke-width="0.35">0.021</text>
<text transform="translate(93.05 2494.85) scale(0.8860 1)" font-size="22.3" text-anchor="middle" fill="#000" fill-opacity="0.78" stroke="#000" stroke-width="0.35">0.004</text>
<text transform="translate(180.95 2494.85) scale(0.8860 1)" font-size="22.3" text-anchor="middle" fill="#000" fill-opacity="0.85" stroke="#000" stroke-width="0.35">0.022</text>
<text transform="translate(261.60 2494.85) scale(0.8860 1)" font-size="22.3" text-anchor="middle" fill="#000" fill-opacity="0.85" stroke="#000" stroke-width="0.35">0.06</text>
<text transform="translate(342.80 2494.85) scale(0.8860 1)" font-size="22.3" text-anchor="middle" fill="#000" fill-opacity="0.85" stroke="#000" stroke-width="0.35">0.028</text>
<text transform="translate(93.05 2527.00) scale(0.8594 1)" font-size="22.3" text-anchor="middle" fill="#fff" stroke="#fff" stroke-width="0.35">&lt;0.001</text>
<text transform="translate(180.95 2527.00) scale(0.8860 1)" font-size="22.3" text-anchor="middle" fill="#000" fill-opacity="0.85" stroke="#000" stroke-width="0.35">0.01</text>
<text transform="translate(261.60 2527.00) scale(0.8860 1)" font-size="22.3" text-anchor="middle" fill="#000" fill-opacity="0.85" stroke="#000" stroke-width="0.35">0.036</text>
<text transform="translate(342.80 2527.00) scale(0.8860 1)" font-size="22.3" text-anchor="middle" fill="#000" fill-opacity="0.85" stroke="#000" stroke-width="0.35">0.013</text>
<text transform="translate(93.05 2559.15) scale(0.8594 1)" font-size="22.3" text-anchor="middle" fill="#fff" stroke="#fff" stroke-width="0.35">&lt;0.001</text>
<text transform="translate(180.95 2559.15) scale(0.8860 1)" font-size="22.3" text-anchor="middle" fill="#000" fill-opacity="0.78" stroke="#000" stroke-width="0.35">0.004</text>
<text transform="translate(261.60 2559.15) scale(0.8860 1)" font-size="22.3" text-anchor="middle" fill="#000" fill-opacity="0.85" stroke="#000" stroke-width="0.35">0.046</text>
<text transform="translate(342.80 2559.15) scale(0.8860 1)" font-size="22.3" text-anchor="middle" fill="#000" fill-opacity="0.85" stroke="#000" stroke-width="0.35">0.042</text>
<text transform="translate(93.05 2591.30) scale(0.8594 1)" font-size="22.3" text-anchor="middle" fill="#fff" stroke="#fff" stroke-width="0.35">&lt;0.001</text>
<text transform="translate(180.95 2591.30) scale(0.8860 1)" font-size="22.3" text-anchor="middle" fill="#000" fill-opacity="0.78" stroke="#000" stroke-width="0.35">0.002</text>
<text transform="translate(261.60 2591.30) scale(0.8860 1)" font-size="22.3" text-anchor="middle" fill="#000" fill-opacity="0.85" stroke="#000" stroke-width="0.35">0.05</text>
<text transform="translate(342.80 2591.30) scale(0.8860 1)" font-size="22.3" text-anchor="middle" fill="#000" fill-opacity="0.85" stroke="#000" stroke-width="0.35">0.013</text>
<rect x="54.00" y="2438.70" width="329.90" height="225.00" fill="none" stroke="#000" stroke-width="2"/>
<text transform="translate(388.10 2462.70) scale(0.8200 1)" font-size="22.3" text-anchor="start" fill="#0d0dc0">GDIR &amp; NIS</text>
<text transform="translate(388.10 2494.85) scale(0.8200 1)" font-size="22.3" text-anchor="start" fill="#0d0dc0">GDIR &amp; NIS</text>
<text transform="translate(388.10 2527.00) scale(0.8200 1)" font-size="22.3" text-anchor="start" fill="#0d0dc0">GDIR &amp; NIS</text>
<text transform="translate(388.10 2559.15) scale(0.8200 1)" font-size="22.3" text-anchor="start" fill="#0d0dc0">GDIR &amp; NIS</text>
<text transform="translate(388.10 2591.30) scale(0.8200 1)" font-size="22.3" text-anchor="start" fill="#0d0dc0">GDIR &amp; NIS</text>
<rect x="520" y="2439" width="80" height="225" fill="#fe0208"/>
<rect x="609" y="2439" width="80" height="32" fill="#fe0208"/>
<rect x="609" y="2471" width="80" height="32" fill="#fc5006"/>
<rect x="609" y="2503" width="80" height="64" fill="#fe0208"/>
<rect x="609" y="2567" width="80" height="97" fill="#fc5006"/>
<rect x="689" y="2439" width="81" height="160" fill="#fc5006"/>
<rect x="689" y="2599" width="81" height="33" fill="#ffff14"/>
<rect x="689" y="2632" width="81" height="32" fill="#fc5006"/>
<rect x="770" y="2439" width="82" height="225" fill="#fc5006"/>
<text transform="translate(559.95 2462.70) scale(0.8860 1)" font-size="22.3" text-anchor="middle" fill="#000" fill-opacity="0.78" stroke="#000" stroke-width="0.35">0.001</text>
<text transform="translate(648.35 2462.70) scale(0.8860 1)" font-size="22.3" text-anchor="middle" fill="#000" fill-opacity="0.78" stroke="#000" stroke-width="0.35">0.004</text>
<text transform="translate(729.05 2462.70) scale(0.8860 1)" font-size="22.3" text-anchor="middle" fill="#000" fill-opacity="0.85" stroke="#000" stroke-width="0.35">0.095</text>
<text transform="translate(810.60 2462.70) scale(0.8860 1)" font-size="22.3" text-anchor="middle" fill="#000" fill-opacity="0.85" stroke="#000" stroke-width="0.35">0.016</text>
<text transform="translate(559.95 2494.85) scale(0.8860 1)" font-size="22.3" text-anchor="middle" fill="#000" fill-opacity="0.78" stroke="#000" stroke-width="0.35">0.003</text>
<text transform="translate(648.35 2494.85) scale(0.8860 1)" font-size="22.3" text-anchor="middle" fill="#000" fill-opacity="0.85" stroke="#000" stroke-width="0.35">0.01</text>
<text transform="translate(729.05 2494.85) scale(0.8860 1)" font-size="22.3" text-anchor="middle" fill="#000" fill-opacity="0.85" stroke="#000" stroke-width="0.35">0.069</text>
<text transform="translate(810.60 2494.85) scale(0.8860 1)" font-size="22.3" text-anchor="middle" fill="#000" fill-opacity="0.85" stroke="#000" stroke-width="0.35">0.013</text>
<text transform="translate(559.95 2527.00) scale(0.8860 1)" font-size="22.3" text-anchor="middle" fill="#000" fill-opacity="0.78" stroke="#000" stroke-width="0.35">0.003</text>
<text transform="translate(648.35 2527.00) scale(0.8860 1)" font-size="22.3" text-anchor="middle" fill="#000" fill-opacity="0.78" stroke="#000" stroke-width="0.35">0.008</text>
<text transform="translate(729.05 2527.00) scale(0.8860 1)" font-size="22.3" text-anchor="middle" fill="#000" fill-opacity="0.85" stroke="#000" stroke-width="0.35">0.07</text>
<text transform="translate(810.60 2527.00) scale(0.8860 1)" font-size="22.3" text-anchor="middle" fill="#000" fill-opacity="0.85" stroke="#000" stroke-width="0.35">0.023</text>
<text transform="translate(559.95 2559.15) scale(0.8860 1)" font-size="22.3" text-anchor="middle" fill="#000" fill-opacity="0.78" stroke="#000" stroke-width="0.35">0.003</text>
<text transform="translate(648.35 2559.15) scale(0.8860 1)" font-size="22.3" text-anchor="middle" fill="#000" fill-opacity="0.78" stroke="#000" stroke-width="0.35">0.006</text>
<text transform="translate(729.05 2559.15) scale(0.8860 1)" font-size="22.3" text-anchor="middle" fill="#000" fill-opacity="0.85" stroke="#000" stroke-width="0.35">0.072</text>
<text transform="translate(810.60 2559.15) scale(0.8860 1)" font-size="22.3" text-anchor="middle" fill="#000" fill-opacity="0.85" stroke="#000" stroke-width="0.35">0.017</text>
<text transform="translate(559.95 2591.30) scale(0.8860 1)" font-size="22.3" text-anchor="middle" fill="#000" fill-opacity="0.78" stroke="#000" stroke-width="0.35">0.004</text>
<text transform="translate(648.35 2591.30) scale(0.8860 1)" font-size="22.3" text-anchor="middle" fill="#000" fill-opacity="0.85" stroke="#000" stroke-width="0.35">0.03</text>
<text transform="translate(729.05 2591.30) scale(0.8860 1)" font-size="22.3" text-anchor="middle" fill="#000" fill-opacity="0.85" stroke="#000" stroke-width="0.35">0.089</text>
<text transform="translate(810.60 2591.30) scale(0.8860 1)" font-size="22.3" text-anchor="middle" fill="#000" fill-opacity="0.85" stroke="#000" stroke-width="0.35">0.019</text>
<text transform="translate(559.95 2623.45) scale(0.8860 1)" font-size="22.3" text-anchor="middle" fill="#000" fill-opacity="0.78" stroke="#000" stroke-width="0.35">0.006</text>
<text transform="translate(648.35 2623.45) scale(0.8860 1)" font-size="22.3" text-anchor="middle" fill="#000" fill-opacity="0.85" stroke="#000" stroke-width="0.35">0.014</text>
<text transform="translate(729.05 2623.45) scale(0.8860 1)" font-size="22.3" text-anchor="middle" fill="#000" fill-opacity="0.95" stroke="#000" stroke-width="0.35">0.113</text>
<text transform="translate(810.60 2623.45) scale(0.8860 1)" font-size="22.3" text-anchor="middle" fill="#000" fill-opacity="0.85" stroke="#000" stroke-width="0.35">0.022</text>
<text transform="translate(559.95 2655.60) scale(0.8860 1)" font-size="22.3" text-anchor="middle" fill="#000" fill-opacity="0.78" stroke="#000" stroke-width="0.35">0.009</text>
<text transform="translate(648.35 2655.60) scale(0.8860 1)" font-size="22.3" text-anchor="middle" fill="#000" fill-opacity="0.85" stroke="#000" stroke-width="0.35">0.04</text>
<text transform="translate(729.05 2655.60) scale(0.8860 1)" font-size="22.3" text-anchor="middle" fill="#000" fill-opacity="0.85" stroke="#000" stroke-width="0.35">0.071</text>
<text transform="translate(810.60 2655.60) scale(0.8860 1)" font-size="22.3" text-anchor="middle" fill="#000" fill-opacity="0.85" stroke="#000" stroke-width="0.35">0.012</text>
<rect x="520.40" y="2438.70" width="331.60" height="225.00" fill="none" stroke="#000" stroke-width="2"/>
<text transform="translate(856.20 2462.70) scale(0.8200 1)" font-size="22.3" text-anchor="start" fill="#0d0dc0">GDIR &amp; NIS</text>
<text transform="translate(856.20 2494.85) scale(0.8200 1)" font-size="22.3" text-anchor="start" fill="#0d0dc0">GDIR &amp; NIS</text>
<text transform="translate(856.20 2527.00) scale(0.8200 1)" font-size="22.3" text-anchor="start" fill="#0d0dc0">GDIR &amp; NIS</text>
<text transform="translate(856.20 2559.15) scale(0.8200 1)" font-size="22.3" text-anchor="start" fill="#0d0dc0">GDIR &amp; NIS</text>
<text transform="translate(856.20 2591.30) scale(0.8200 1)" font-size="22.3" text-anchor="start" fill="#0d0dc0">GDIR &amp; NIS</text>
<text transform="translate(856.20 2623.45) scale(0.8200 1)" font-size="22.3" text-anchor="start" fill="#0d0dc0">GDIR &amp; NIS</text>
<text transform="translate(856.20 2655.60) scale(0.8200 1)" font-size="22.3" text-anchor="start" fill="#0d0dc0">GDIR &amp; NIS</text>
<rect x="1046" y="282" width="81" height="315" fill="#000000"/>
<rect x="1136" y="282" width="82" height="315" fill="#000000"/>
<rect x="1218" y="282" width="83" height="32" fill="#ffff14"/>
<rect x="1218" y="314" width="83" height="283" fill="#166d08"/>
<rect x="1301" y="282" width="83" height="95" fill="#fc5006"/>
<rect x="1301" y="377" width="83" height="31" fill="#ffff14"/>
<rect x="1301" y="408" width="83" height="32" fill="#fc5006"/>
<rect x="1301" y="440" width="83" height="31" fill="#ffff14"/>
<rect x="1301" y="471" width="83" height="32" fill="#fc5006"/>
<rect x="1301" y="503" width="83" height="94" fill="#ffff14"/>
<text transform="translate(1260.85 306.70) scale(0.8400 1)" font-size="26" text-anchor="middle" fill="#000" fill-opacity="0.95">0.644</text>
<text transform="translate(1343.95 306.70) scale(0.8400 1)" font-size="26" text-anchor="middle" fill="#000" fill-opacity="0.85">0.045</text>
<text transform="translate(1260.85 338.20) scale(0.8400 1)" font-size="26" text-anchor="middle" fill="#000" fill-opacity="0.8">1.202</text>
<text transform="translate(1343.95 338.20) scale(0.8400 1)" font-size="26" text-anchor="middle" fill="#000" fill-opacity="0.85">0.064</text>
<text transform="translate(1260.85 369.70) scale(0.8400 1)" font-size="26" text-anchor="middle" fill="#000" fill-opacity="0.8">1.212</text>
<text transform="translate(1343.95 369.70) scale(0.8400 1)" font-size="26" text-anchor="middle" fill="#000" fill-opacity="0.85">0.042</text>
<text transform="translate(1260.85 401.20) scale(0.8400 1)" font-size="26" text-anchor="middle" fill="#000" fill-opacity="0.8">2.003</text>
<text transform="translate(1343.95 401.20) scale(0.8400 1)" font-size="26" text-anchor="middle" fill="#000" fill-opacity="0.95">0.21</text>
<text transform="translate(1260.85 432.70) scale(0.8400 1)" font-size="26" text-anchor="middle" fill="#000" fill-opacity="0.8">2.46</text>
<text transform="translate(1343.95 432.70) scale(0.8400 1)" font-size="26" text-anchor="middle" fill="#000" fill-opacity="0.85">0.074</text>
<text transform="translate(1260.85 464.20) scale(0.8400 1)" font-size="26" text-anchor="middle" fill="#000" fill-opacity="0.8">2.487</text>
<text transform="translate(1343.95 464.20) scale(0.8400 1)" font-size="26" text-anchor="middle" fill="#000" fill-opacity="0.95">0.129</text>
<text transform="translate(1260.85 495.70) scale(0.8400 1)" font-size="26" text-anchor="middle" fill="#000" fill-opacity="0.8">3.777</text>
<text transform="translate(1343.95 495.70) scale(0.8400 1)" font-size="26" text-anchor="middle" fill="#000" fill-opacity="0.85">0.026</text>
<text transform="translate(1260.85 527.20) scale(0.8400 1)" font-size="26" text-anchor="middle" fill="#000" fill-opacity="0.8">3.876</text>
<text transform="translate(1343.95 527.20) scale(0.8400 1)" font-size="26" text-anchor="middle" fill="#000" fill-opacity="0.95">0.164</text>
<text transform="translate(1260.85 558.70) scale(0.8400 1)" font-size="26" text-anchor="middle" fill="#000" fill-opacity="0.8">6.447</text>
<text transform="translate(1343.95 558.70) scale(0.8400 1)" font-size="26" text-anchor="middle" fill="#000" fill-opacity="0.95">0.105</text>
<text transform="translate(1260.85 590.20) scale(0.8400 1)" font-size="26" text-anchor="middle" fill="#000" fill-opacity="0.8">8.175</text>
<text transform="translate(1343.95 590.20) scale(0.8400 1)" font-size="26" text-anchor="middle" fill="#000" fill-opacity="0.95">0.158</text>
<rect x="1045.50" y="282.30" width="338.80" height="315.00" fill="none" stroke="#000" stroke-width="2"/>
<line x1="1045.50" y1="276.30" x2="1045.50" y2="283.30" stroke="#000" stroke-width="2"/>
<line x1="1384.30" y1="276.30" x2="1384.30" y2="283.30" stroke="#000" stroke-width="2"/>
<text transform="translate(1389.30 304.40) scale(0.8680 1)" font-size="25.4" text-anchor="start" fill="#000">GDIR &amp; <tspan fill="#e0101a">IIN</tspan></text>
<text transform="translate(1389.30 335.90) scale(0.8680 1)" font-size="25.4" text-anchor="start" fill="#000">GDIR &amp; <tspan fill="#e0101a">IIN</tspan></text>
<text transform="translate(1389.30 367.40) scale(0.8680 1)" font-size="25.4" text-anchor="start" fill="#000">GDIR &amp; <tspan fill="#e0101a">IIN</tspan></text>
<text transform="translate(1389.30 398.90) scale(0.8680 1)" font-size="25.4" text-anchor="start" fill="#000">GDIR &amp; <tspan fill="#e0101a">IIN</tspan></text>
<text transform="translate(1389.30 430.40) scale(0.8680 1)" font-size="25.4" text-anchor="start" fill="#000">GDIR &amp; <tspan fill="#e0101a">IIN</tspan></text>
<text transform="translate(1389.30 461.90) scale(0.8680 1)" font-size="25.4" text-anchor="start" fill="#000">GDIR &amp; <tspan fill="#e0101a">VIN</tspan></text>
<text transform="translate(1389.30 493.40) scale(0.8680 1)" font-size="25.4" text-anchor="start" fill="#000">GDIR &amp; <tspan fill="#e0101a">IIN</tspan></text>
<text transform="translate(1389.30 524.90) scale(0.8680 1)" font-size="25.4" text-anchor="start" fill="#000">GDIR &amp; <tspan fill="#e0101a">IIN</tspan></text>
<text transform="translate(1389.30 556.40) scale(0.8680 1)" font-size="25.4" text-anchor="start" fill="#000">GDIR &amp; <tspan fill="#e0101a">IIN</tspan></text>
<text transform="translate(1389.30 587.90) scale(0.8680 1)" font-size="25.4" text-anchor="start" fill="#000">GDIR &amp; <tspan fill="#e0101a">IIN</tspan></text>
<rect x="1544" y="282" width="82" height="126" fill="#000000"/>
<rect x="1634" y="282" width="82" height="126" fill="#000000"/>
<rect x="1716" y="282" width="83" height="32" fill="#fc5006"/>
<rect x="1716" y="314" width="83" height="62" fill="#ffff14"/>
<rect x="1716" y="376" width="83" height="32" fill="#166d08"/>
<rect x="1799" y="282" width="84" height="63" fill="#fc5006"/>
<rect x="1799" y="345" width="84" height="31" fill="#ffff14"/>
<rect x="1799" y="376" width="84" height="32" fill="#fc5006"/>
<text transform="translate(1759.25 306.70) scale(0.8400 1)" font-size="26" text-anchor="middle" fill="#000" fill-opacity="0.85">0.043</text>
<text transform="translate(1842.70 306.70) scale(0.8400 1)" font-size="26" text-anchor="middle" fill="#000" fill-opacity="0.85">0.095</text>
<text transform="translate(1759.25 338.00) scale(0.8400 1)" font-size="26" text-anchor="middle" fill="#000" fill-opacity="0.95">0.266</text>
<text transform="translate(1842.70 338.00) scale(0.8400 1)" font-size="26" text-anchor="middle" fill="#000" fill-opacity="0.85">0.031</text>
<text transform="translate(1759.25 369.30) scale(0.8400 1)" font-size="26" text-anchor="middle" fill="#000" fill-opacity="0.95">0.33</text>
<text transform="translate(1842.70 369.30) scale(0.8400 1)" font-size="26" text-anchor="middle" fill="#000" fill-opacity="0.95">0.1</text>
<text transform="translate(1759.25 400.60) scale(0.8400 1)" font-size="26" text-anchor="middle" fill="#000" fill-opacity="0.8">2.605</text>
<text transform="translate(1842.70 400.60) scale(0.8400 1)" font-size="26" text-anchor="middle" fill="#000" fill-opacity="0.85">0.046</text>
<rect x="1543.90" y="282.30" width="339.10" height="314.70" fill="none" stroke="#000" stroke-width="2"/>
<line x1="1543.90" y1="279.30" x2="1543.90" y2="283.30" stroke="#000" stroke-width="2"/>
<line x1="1883.00" y1="279.30" x2="1883.00" y2="283.30" stroke="#000" stroke-width="2"/>
<text transform="translate(1888.00 303.70) scale(0.8680 1)" font-size="25.4" text-anchor="start" fill="#000">GDIR &amp; <tspan fill="#e0101a">IIN</tspan></text>
<text transform="translate(1888.00 335.00) scale(0.8680 1)" font-size="25.4" text-anchor="start" fill="#000">GDIR &amp; <tspan fill="#e0101a">IIN</tspan></text>
<text transform="translate(1888.00 366.30) scale(0.8680 1)" font-size="25.4" text-anchor="start" fill="#000">GDIR &amp; <tspan fill="#e0101a">VIN</tspan></text>
<text transform="translate(1888.00 397.60) scale(0.8680 1)" font-size="25.4" text-anchor="start" fill="#000">GDIR &amp; <tspan fill="#e0101a">IIN</tspan></text>
<rect x="1046" y="628" width="81" height="94" fill="#000000"/>
<rect x="1136" y="628" width="82" height="94" fill="#000000"/>
<rect x="1218" y="628" width="83" height="94" fill="#000000"/>
<rect x="1301" y="628" width="83" height="32" fill="#fe0208"/>
<rect x="1301" y="660" width="83" height="62" fill="#fc5006"/>
<text transform="translate(1343.95 652.70) scale(0.8400 1)" font-size="26" text-anchor="middle" fill="#000" fill-opacity="0.78">0.009</text>
<text transform="translate(1343.95 684.00) scale(0.8400 1)" font-size="26" text-anchor="middle" fill="#000" fill-opacity="0.85">0.019</text>
<text transform="translate(1343.95 715.30) scale(0.8400 1)" font-size="26" text-anchor="middle" fill="#000" fill-opacity="0.85">0.025</text>
<rect x="1045.50" y="628.30" width="338.80" height="283.70" fill="none" stroke="#000" stroke-width="2"/>
<text transform="translate(1389.30 650.10) scale(0.8680 1)" font-size="25.4" text-anchor="start" fill="#000">GDIR &amp; <tspan fill="#e0101a">TIN</tspan></text>
<text transform="translate(1389.30 681.40) scale(0.8680 1)" font-size="25.4" text-anchor="start" fill="#000">GDIR &amp; <tspan fill="#e0101a">TIN</tspan></text>
<text transform="translate(1389.30 712.70) scale(0.8680 1)" font-size="25.4" text-anchor="start" fill="#000">GDIR &amp; <tspan fill="#e0101a">TIN</tspan></text>
<rect x="1544" y="628" width="82" height="284" fill="#000000"/>
<rect x="1634" y="628" width="82" height="284" fill="#000000"/>
<rect x="1716" y="628" width="83" height="63" fill="#166d08"/>
<rect x="1716" y="691" width="83" height="63" fill="#0c00ff"/>
<rect x="1716" y="754" width="83" height="158" fill="#000000"/>
<rect x="1799" y="628" width="84" height="32" fill="#fe0208"/>
<rect x="1799" y="660" width="84" height="31" fill="#ffff14"/>
<rect x="1799" y="691" width="84" height="63" fill="#fc5006"/>
<rect x="1799" y="754" width="84" height="32" fill="#fe0208"/>
<rect x="1799" y="786" width="84" height="126" fill="#fc5006"/>
<text transform="translate(1759.25 652.70) scale(0.8400 1)" font-size="26" text-anchor="middle" fill="#000" fill-opacity="0.8">1.126</text>
<text transform="translate(1842.70 652.70) scale(0.8148 1)" font-size="26" text-anchor="middle" fill="#000" fill-opacity="0.78">&lt;0.023</text>
<text transform="translate(1759.25 684.25) scale(0.8400 1)" font-size="26" text-anchor="middle" fill="#000" fill-opacity="0.8">1.245</text>
<text transform="translate(1842.70 684.25) scale(0.8400 1)" font-size="26" text-anchor="middle" fill="#000" fill-opacity="0.95">0.184</text>
<text transform="translate(1759.25 715.80) scale(0.8148 1)" font-size="26" text-anchor="middle" fill="#000" fill-opacity="0.78">20.853</text>
<text transform="translate(1842.70 715.80) scale(0.8400 1)" font-size="26" text-anchor="middle" fill="#000" fill-opacity="0.85">0.022</text>
<text transform="translate(1759.25 747.35) scale(0.8148 1)" font-size="26" text-anchor="middle" fill="#000" fill-opacity="0.78">43.949</text>
<text transform="translate(1842.70 747.35) scale(0.8400 1)" font-size="26" text-anchor="middle" fill="#000" fill-opacity="0.85">0.026</text>
<text transform="translate(1842.70 778.90) scale(0.8148 1)" font-size="26" text-anchor="middle" fill="#000" fill-opacity="0.78">&lt;0.023</text>
<text transform="translate(1842.70 810.45) scale(0.8400 1)" font-size="26" text-anchor="middle" fill="#000" fill-opacity="0.85">0.039</text>
<text transform="translate(1842.70 842.00) scale(0.8400 1)" font-size="26" text-anchor="middle" fill="#000" fill-opacity="0.85">0.013</text>
<text transform="translate(1842.70 873.55) scale(0.8400 1)" font-size="26" text-anchor="middle" fill="#000" fill-opacity="0.85">0.044</text>
<text transform="translate(1842.70 905.10) scale(0.8400 1)" font-size="26" text-anchor="middle" fill="#000" fill-opacity="0.85">0.049</text>
<rect x="1543.90" y="628.30" width="339.10" height="283.70" fill="none" stroke="#000" stroke-width="2"/>
<text transform="translate(1888.00 650.10) scale(0.8680 1)" font-size="25.4" text-anchor="start" fill="#000">GDIR &amp; <tspan fill="#e0101a">TIN</tspan></text>
<text transform="translate(1888.00 681.40) scale(0.8680 1)" font-size="25.4" text-anchor="start" fill="#000">GDIR &amp; <tspan fill="#e0101a">TIN</tspan></text>
<text transform="translate(1888.00 712.70) scale(0.8680 1)" font-size="25.4" text-anchor="start" fill="#000">GDIR &amp; <tspan fill="#e0101a">TIN</tspan></text>
<text transform="translate(1888.00 744.00) scale(0.8680 1)" font-size="25.4" text-anchor="start" fill="#000">GDIR &amp; <tspan fill="#e0101a">TIN</tspan></text>
<text transform="translate(1888.00 775.30) scale(0.8680 1)" font-size="25.4" text-anchor="start" fill="#000">GDIR &amp; <tspan fill="#e0101a">TIN</tspan></text>
<text transform="translate(1888.00 806.60) scale(0.8680 1)" font-size="25.4" text-anchor="start" fill="#000">GDIR &amp; <tspan fill="#e0101a">TIN</tspan></text>
<text transform="translate(1888.00 837.90) scale(0.8680 1)" font-size="25.4" text-anchor="start" fill="#000">GDIR &amp; <tspan fill="#e0101a">TIN</tspan></text>
<text transform="translate(1888.00 869.20) scale(0.8680 1)" font-size="25.4" text-anchor="start" fill="#000">GDIR &amp; <tspan fill="#e0101a">TIN</tspan></text>
<text transform="translate(1888.00 900.50) scale(0.8680 1)" font-size="25.4" text-anchor="start" fill="#000">GDIR &amp; <tspan fill="#e0101a">TIN</tspan></text>
<rect x="1046" y="942" width="81" height="32" fill="#0c00ff"/>
<rect x="1046" y="974" width="81" height="189" fill="#000000"/>
<rect x="1136" y="942" width="82" height="221" fill="#000000"/>
<rect x="1218" y="942" width="83" height="32" fill="#000000"/>
<rect x="1218" y="974" width="83" height="189" fill="#0c00ff"/>
<rect x="1301" y="942" width="83" height="32" fill="#ffff14"/>
<rect x="1301" y="974" width="83" height="158" fill="#fc5006"/>
<rect x="1301" y="1132" width="83" height="31" fill="#ffff14"/>
<text transform="translate(1087.90 966.90) scale(0.8148 1)" font-size="26" text-anchor="middle" fill="#000" fill-opacity="0.78">44.077</text>
<text transform="translate(1343.95 966.90) scale(0.8400 1)" font-size="26" text-anchor="middle" fill="#000" fill-opacity="0.95">0.172</text>
<text transform="translate(1260.85 998.45) scale(0.8400 1)" font-size="26" text-anchor="middle" fill="#000" fill-opacity="0.78">18</text>
<text transform="translate(1343.95 998.45) scale(0.8400 1)" font-size="26" text-anchor="middle" fill="#000" fill-opacity="0.85">0.081</text>
<text transform="translate(1260.85 1030.00) scale(0.8148 1)" font-size="26" text-anchor="middle" fill="#000" fill-opacity="0.78">21.014</text>
<text transform="translate(1343.95 1030.00) scale(0.8400 1)" font-size="26" text-anchor="middle" fill="#000" fill-opacity="0.85">0.087</text>
<text transform="translate(1260.85 1061.55) scale(0.8148 1)" font-size="26" text-anchor="middle" fill="#000" fill-opacity="0.78">21.019</text>
<text transform="translate(1343.95 1061.55) scale(0.8400 1)" font-size="26" text-anchor="middle" fill="#000" fill-opacity="0.85">0.049</text>
<text transform="translate(1260.85 1093.10) scale(0.8148 1)" font-size="26" text-anchor="middle" fill="#000" fill-opacity="0.78">23.668</text>
<text transform="translate(1343.95 1093.10) scale(0.8400 1)" font-size="26" text-anchor="middle" fill="#000" fill-opacity="0.85">0.042</text>
<text transform="translate(1260.85 1124.65) scale(0.8148 1)" font-size="26" text-anchor="middle" fill="#000" fill-opacity="0.78">23.679</text>
<text transform="translate(1343.95 1124.65) scale(0.8400 1)" font-size="26" text-anchor="middle" fill="#000" fill-opacity="0.85">0.062</text>
<text transform="translate(1260.85 1156.20) scale(0.8148 1)" font-size="26" text-anchor="middle" fill="#000" fill-opacity="0.78">24.326</text>
<text transform="translate(1343.95 1156.20) scale(0.8400 1)" font-size="26" text-anchor="middle" fill="#000" fill-opacity="0.95">0.145</text>
<rect x="1045.50" y="942.50" width="338.80" height="220.90" fill="none" stroke="#000" stroke-width="2"/>
<text transform="translate(1389.30 965.50) scale(0.8680 1)" font-size="25.4" text-anchor="start" fill="#000">GDIR &amp; NI<tspan fill="#e0101a">N</tspan></text>
<text transform="translate(1389.30 996.78) scale(0.8680 1)" font-size="25.4" text-anchor="start" fill="#000">GDIR &amp; NI<tspan fill="#e0101a">N</tspan></text>
<text transform="translate(1389.30 1028.06) scale(0.8680 1)" font-size="25.4" text-anchor="start" fill="#000">GDIR &amp; NI<tspan fill="#e0101a">N</tspan></text>
<text transform="translate(1389.30 1059.34) scale(0.8680 1)" font-size="25.4" text-anchor="start" fill="#000">GDIR &amp; NI<tspan fill="#e0101a">N</tspan></text>
<text transform="translate(1389.30 1090.62) scale(0.8680 1)" font-size="25.4" text-anchor="start" fill="#000">GDIR &amp; NI<tspan fill="#e0101a">N</tspan></text>
<text transform="translate(1389.30 1121.90) scale(0.8680 1)" font-size="25.4" text-anchor="start" fill="#000">GDIR &amp; NI<tspan fill="#e0101a">N</tspan></text>
<text transform="translate(1389.30 1153.18) scale(0.8680 1)" font-size="25.4" text-anchor="start" fill="#000">GDIR &amp; NI<tspan fill="#e0101a">N</tspan></text>
<rect x="1544" y="942" width="82" height="158" fill="#000000"/>
<rect x="1634" y="942" width="82" height="158" fill="#000000"/>
<rect x="1716" y="942" width="83" height="158" fill="#0c00ff"/>
<rect x="1799" y="942" width="84" height="32" fill="#ffff14"/>
<rect x="1799" y="974" width="84" height="126" fill="#fc5006"/>
<text transform="translate(1759.25 966.90) scale(0.8148 1)" font-size="26" text-anchor="middle" fill="#000" fill-opacity="0.78">10.441</text>
<text transform="translate(1842.70 966.90) scale(0.8400 1)" font-size="26" text-anchor="middle" fill="#000" fill-opacity="0.95">0.178</text>
<text transform="translate(1759.25 998.30) scale(0.8148 1)" font-size="26" text-anchor="middle" fill="#000" fill-opacity="0.78">21.672</text>
<text transform="translate(1842.70 998.30) scale(0.8400 1)" font-size="26" text-anchor="middle" fill="#000" fill-opacity="0.85">0.048</text>
<text transform="translate(1759.25 1029.70) scale(0.8148 1)" font-size="26" text-anchor="middle" fill="#000" fill-opacity="0.78">22.979</text>
<text transform="translate(1842.70 1029.70) scale(0.8400 1)" font-size="26" text-anchor="middle" fill="#000" fill-opacity="0.85">0.033</text>
<text transform="translate(1759.25 1061.10) scale(0.8400 1)" font-size="26" text-anchor="middle" fill="#000" fill-opacity="0.78">30.49</text>
<text transform="translate(1842.70 1061.10) scale(0.8400 1)" font-size="26" text-anchor="middle" fill="#000" fill-opacity="0.85">0.063</text>
<text transform="translate(1759.25 1092.50) scale(0.8148 1)" font-size="26" text-anchor="middle" fill="#000" fill-opacity="0.78">30.629</text>
<text transform="translate(1842.70 1092.50) scale(0.8400 1)" font-size="26" text-anchor="middle" fill="#000" fill-opacity="0.85">0.048</text>
<rect x="1543.90" y="942.50" width="339.10" height="220.90" fill="none" stroke="#000" stroke-width="2"/>
<text transform="translate(1888.00 964.90) scale(0.8680 1)" font-size="25.4" text-anchor="start" fill="#000">GDIR &amp; NI<tspan fill="#e0101a">N</tspan></text>
<text transform="translate(1888.00 996.30) scale(0.8680 1)" font-size="25.4" text-anchor="start" fill="#000">GDIR &amp; NI<tspan fill="#e0101a">D</tspan></text>
<text transform="translate(1888.00 1027.70) scale(0.8680 1)" font-size="25.4" text-anchor="start" fill="#000">GDI<tspan fill="#e0101a">K</tspan> &amp; NI<tspan fill="#e0101a">N</tspan></text>
<text transform="translate(1888.00 1059.10) scale(0.8680 1)" font-size="25.4" text-anchor="start" fill="#000">GDI<tspan fill="#e0101a">K</tspan> &amp; NI<tspan fill="#e0101a">N</tspan></text>
<text transform="translate(1888.00 1090.50) scale(0.8680 1)" font-size="25.4" text-anchor="start" fill="#000">GDI<tspan fill="#e0101a">K</tspan> &amp; NI<tspan fill="#e0101a">N</tspan></text>
<rect x="1046" y="1194" width="81" height="63" fill="#fc5006"/>
<rect x="1046" y="1257" width="81" height="189" fill="#166d08"/>
<rect x="1046" y="1446" width="81" height="94" fill="#0c00ff"/>
<rect x="1046" y="1540" width="81" height="32" fill="#000000"/>
<rect x="1136" y="1194" width="82" height="32" fill="#fe0208"/>
<rect x="1136" y="1226" width="82" height="31" fill="#ffff14"/>
<rect x="1136" y="1257" width="82" height="31" fill="#fe0208"/>
<rect x="1136" y="1288" width="82" height="95" fill="#fc5006"/>
<rect x="1136" y="1383" width="82" height="31" fill="#fe0208"/>
<rect x="1136" y="1414" width="82" height="64" fill="#fc5006"/>
<rect x="1136" y="1478" width="82" height="31" fill="#fe0208"/>
<rect x="1136" y="1509" width="82" height="31" fill="#fc5006"/>
<rect x="1136" y="1540" width="82" height="32" fill="#ffff14"/>
<rect x="1218" y="1194" width="83" height="32" fill="#000000"/>
<rect x="1218" y="1226" width="83" height="126" fill="#ffff14"/>
<rect x="1218" y="1352" width="83" height="126" fill="#166d08"/>
<rect x="1218" y="1478" width="83" height="62" fill="#000000"/>
<rect x="1218" y="1540" width="83" height="32" fill="#166d08"/>
<rect x="1301" y="1194" width="83" height="63" fill="#fc5006"/>
<rect x="1301" y="1257" width="83" height="31" fill="#fe0208"/>
<rect x="1301" y="1288" width="83" height="284" fill="#fc5006"/>
<text transform="translate(1087.90 1218.40) scale(0.8400 1)" font-size="26" text-anchor="middle" fill="#000" fill-opacity="0.85">0.072</text>
<text transform="translate(1178.35 1218.40) scale(0.8400 1)" font-size="26" text-anchor="middle" fill="#000" fill-opacity="0.78">0.008</text>
<text transform="translate(1343.95 1218.40) scale(0.8400 1)" font-size="26" text-anchor="middle" fill="#000" fill-opacity="0.85">0.011</text>
<text transform="translate(1087.90 1249.90) scale(0.8400 1)" font-size="26" text-anchor="middle" fill="#000" fill-opacity="0.85">0.083</text>
<text transform="translate(1178.35 1249.90) scale(0.8400 1)" font-size="26" text-anchor="middle" fill="#000" fill-opacity="0.95">0.101</text>
<text transform="translate(1260.85 1249.90) scale(0.8400 1)" font-size="26" text-anchor="middle" fill="#000" fill-opacity="0.95">0.208</text>
<text transform="translate(1343.95 1249.90) scale(0.8400 1)" font-size="26" text-anchor="middle" fill="#000" fill-opacity="0.85">0.034</text>
<text transform="translate(1087.90 1281.40) scale(0.8400 1)" font-size="26" text-anchor="middle" fill="#000" fill-opacity="0.8">2.217</text>
<text transform="translate(1178.35 1281.40) scale(0.8400 1)" font-size="26" text-anchor="middle" fill="#000" fill-opacity="0.78">0.001</text>
<text transform="translate(1260.85 1281.40) scale(0.8400 1)" font-size="26" text-anchor="middle" fill="#000" fill-opacity="0.95">0.522</text>
<text transform="translate(1343.95 1281.40) scale(0.8400 1)" font-size="26" text-anchor="middle" fill="#000" fill-opacity="0.78">0.006</text>
<text transform="translate(1087.90 1312.90) scale(0.8400 1)" font-size="26" text-anchor="middle" fill="#000" fill-opacity="0.8">3.021</text>
<text transform="translate(1178.35 1312.90) scale(0.8400 1)" font-size="26" text-anchor="middle" fill="#000" fill-opacity="0.85">0.032</text>
<text transform="translate(1260.85 1312.90) scale(0.8400 1)" font-size="26" text-anchor="middle" fill="#000" fill-opacity="0.95">0.563</text>
<text transform="translate(1343.95 1312.90) scale(0.8400 1)" font-size="26" text-anchor="middle" fill="#000" fill-opacity="0.85">0.031</text>
<text transform="translate(1087.90 1344.40) scale(0.8400 1)" font-size="26" text-anchor="middle" fill="#000" fill-opacity="0.8">5.252</text>
<text transform="translate(1178.35 1344.40) scale(0.8400 1)" font-size="26" text-anchor="middle" fill="#000" fill-opacity="0.85">0.023</text>
<text transform="translate(1260.85 1344.40) scale(0.8400 1)" font-size="26" text-anchor="middle" fill="#000" fill-opacity="0.95">0.659</text>
<text transform="translate(1343.95 1344.40) scale(0.8400 1)" font-size="26" text-anchor="middle" fill="#000" fill-opacity="0.85">0.027</text>
<text transform="translate(1087.90 1375.90) scale(0.8400 1)" font-size="26" text-anchor="middle" fill="#000" fill-opacity="0.8">1.003</text>
<text transform="translate(1178.35 1375.90) scale(0.8400 1)" font-size="26" text-anchor="middle" fill="#000" fill-opacity="0.85">0.026</text>
<text transform="translate(1260.85 1375.90) scale(0.8400 1)" font-size="26" text-anchor="middle" fill="#000" fill-opacity="0.8">1.401</text>
<text transform="translate(1343.95 1375.90) scale(0.8400 1)" font-size="26" text-anchor="middle" fill="#000" fill-opacity="0.85">0.017</text>
<text transform="translate(1087.90 1407.40) scale(0.8400 1)" font-size="26" text-anchor="middle" fill="#000" fill-opacity="0.8">4.787</text>
<text transform="translate(1178.35 1407.40) scale(0.8400 1)" font-size="26" text-anchor="middle" fill="#000" fill-opacity="0.78">0.001</text>
<text transform="translate(1260.85 1407.40) scale(0.8400 1)" font-size="26" text-anchor="middle" fill="#000" fill-opacity="0.8">2.451</text>
<text transform="translate(1343.95 1407.40) scale(0.8400 1)" font-size="26" text-anchor="middle" fill="#000" fill-opacity="0.85">0.015</text>
<text transform="translate(1087.90 1438.90) scale(0.8400 1)" font-size="26" text-anchor="middle" fill="#000" fill-opacity="0.8">3.260</text>
<text transform="translate(1178.35 1438.90) scale(0.8400 1)" font-size="26" text-anchor="middle" fill="#000" fill-opacity="0.85">0.010</text>
<text transform="translate(1260.85 1438.90) scale(0.8400 1)" font-size="26" text-anchor="middle" fill="#000" fill-opacity="0.8">3.329</text>
<text transform="translate(1343.95 1438.90) scale(0.8400 1)" font-size="26" text-anchor="middle" fill="#000" fill-opacity="0.85">0.015</text>
<text transform="translate(1087.90 1470.40) scale(0.8148 1)" font-size="26" text-anchor="middle" fill="#000" fill-opacity="0.78">15.419</text>
<text transform="translate(1178.35 1470.40) scale(0.8400 1)" font-size="26" text-anchor="middle" fill="#000" fill-opacity="0.85">0.018</text>
<text transform="translate(1260.85 1470.40) scale(0.8400 1)" font-size="26" text-anchor="middle" fill="#000" fill-opacity="0.8">1.034</text>
<text transform="translate(1343.95 1470.40) scale(0.8400 1)" font-size="26" text-anchor="middle" fill="#000" fill-opacity="0.85">0.015</text>
<text transform="translate(1087.90 1501.90) scale(0.8148 1)" font-size="26" text-anchor="middle" fill="#000" fill-opacity="0.78">36.731</text>
<text transform="translate(1178.35 1501.90) scale(0.8400 1)" font-size="26" text-anchor="middle" fill="#000" fill-opacity="0.78">0.009</text>
<text transform="translate(1343.95 1501.90) scale(0.8400 1)" font-size="26" text-anchor="middle" fill="#000" fill-opacity="0.85">0.019</text>
<text transform="translate(1087.90 1533.40) scale(0.8148 1)" font-size="26" text-anchor="middle" fill="#000" fill-opacity="0.78">45.141</text>
<text transform="translate(1178.35 1533.40) scale(0.8400 1)" font-size="26" text-anchor="middle" fill="#000" fill-opacity="0.85">0.029</text>
<text transform="translate(1343.95 1533.40) scale(0.8400 1)" font-size="26" text-anchor="middle" fill="#000" fill-opacity="0.85">0.01</text>
<text transform="translate(1178.35 1564.90) scale(0.8400 1)" font-size="26" text-anchor="middle" fill="#000" fill-opacity="0.95">0.152</text>
<text transform="translate(1260.85 1564.90) scale(0.8400 1)" font-size="26" text-anchor="middle" fill="#000" fill-opacity="0.8">1.251</text>
<text transform="translate(1343.95 1564.90) scale(0.8400 1)" font-size="26" text-anchor="middle" fill="#000" fill-opacity="0.85">0.034</text>
<rect x="1045.50" y="1194.00" width="338.80" height="378.00" fill="none" stroke="#000" stroke-width="2"/>
<text transform="translate(1389.30 1217.60) scale(0.8680 1)" font-size="25.4" text-anchor="start" fill="#0d0dc0">GDIR &amp; NIS</text>
<text transform="translate(1389.30 1249.10) scale(0.8680 1)" font-size="25.4" text-anchor="start" fill="#0d0dc0">GDIR &amp; NIS</text>
<text transform="translate(1389.30 1280.60) scale(0.8680 1)" font-size="25.4" text-anchor="start" fill="#0d0dc0">GDIR &amp; NIS</text>
<text transform="translate(1389.30 1312.10) scale(0.8680 1)" font-size="25.4" text-anchor="start" fill="#0d0dc0">GDIR &amp; NIS</text>
<text transform="translate(1389.30 1343.60) scale(0.8680 1)" font-size="25.4" text-anchor="start" fill="#0d0dc0">GDIR &amp; NIS</text>
<text transform="translate(1389.30 1375.10) scale(0.8680 1)" font-size="25.4" text-anchor="start" fill="#0d0dc0">GDIR &amp; NIS</text>
<text transform="translate(1389.30 1406.60) scale(0.8680 1)" font-size="25.4" text-anchor="start" fill="#0d0dc0">GDIR &amp; NIS</text>
<text transform="translate(1389.30 1438.10) scale(0.8680 1)" font-size="25.4" text-anchor="start" fill="#0d0dc0">GDIR &amp; NIS</text>
<text transform="translate(1389.30 1469.60) scale(0.8680 1)" font-size="25.4" text-anchor="start" fill="#0d0dc0">GDIR &amp; NIS</text>
<text transform="translate(1389.30 1501.10) scale(0.8680 1)" font-size="25.4" text-anchor="start" fill="#0d0dc0">GDIR &amp; NIS</text>
<text transform="translate(1389.30 1532.60) scale(0.8680 1)" font-size="25.4" text-anchor="start" fill="#0d0dc0">GDIR &amp; NIS</text>
<text transform="translate(1389.30 1564.10) scale(0.8680 1)" font-size="25.4" text-anchor="start" fill="#000">GDIR &amp; NIS</text>
<rect x="1544" y="1194" width="82" height="125" fill="#000000"/>
<rect x="1634" y="1194" width="82" height="94" fill="#fc5006"/>
<rect x="1634" y="1288" width="82" height="31" fill="#000000"/>
<rect x="1716" y="1194" width="83" height="125" fill="#000000"/>
<rect x="1799" y="1194" width="84" height="31" fill="#fe0208"/>
<rect x="1799" y="1225" width="84" height="94" fill="#fc5006"/>
<text transform="translate(1676.60 1218.40) scale(0.8400 1)" font-size="26" text-anchor="middle" fill="#000" fill-opacity="0.85">0.015</text>
<text transform="translate(1842.70 1218.40) scale(0.8400 1)" font-size="26" text-anchor="middle" fill="#000" fill-opacity="0.78">0.009</text>
<text transform="translate(1676.60 1249.70) scale(0.8400 1)" font-size="26" text-anchor="middle" fill="#000" fill-opacity="0.85">0.084</text>
<text transform="translate(1842.70 1249.70) scale(0.8400 1)" font-size="26" text-anchor="middle" fill="#000" fill-opacity="0.85">0.031</text>
<text transform="translate(1676.60 1281.00) scale(0.8400 1)" font-size="26" text-anchor="middle" fill="#000" fill-opacity="0.85">0.043</text>
<text transform="translate(1842.70 1281.00) scale(0.8400 1)" font-size="26" text-anchor="middle" fill="#000" fill-opacity="0.85">0.019</text>
<text transform="translate(1842.70 1312.30) scale(0.8400 1)" font-size="26" text-anchor="middle" fill="#000" fill-opacity="0.85">0.020</text>
<rect x="1543.90" y="1194.00" width="339.10" height="378.00" fill="none" stroke="#000" stroke-width="2"/>
<text transform="translate(1888.00 1217.60) scale(0.8680 1)" font-size="25.4" text-anchor="start" fill="#000">GDIR &amp; NIS</text>
<text transform="translate(1888.00 1248.55) scale(0.8680 1)" font-size="25.4" text-anchor="start" fill="#000">GDIR &amp; NIS</text>
<text transform="translate(1888.00 1279.50) scale(0.8680 1)" font-size="25.4" text-anchor="start" fill="#000">GDIR &amp; NIS</text>
<text transform="translate(1888.00 1310.45) scale(0.8680 1)" font-size="25.4" text-anchor="start" fill="#000">GDIR &amp; N<tspan fill="#e0101a">IR</tspan></text>
<rect x="1046" y="1603" width="81" height="32" fill="#700000"/>
<rect x="1046" y="1635" width="81" height="125" fill="#166d08"/>
<rect x="1136" y="1603" width="82" height="32" fill="#fe0208"/>
<rect x="1136" y="1635" width="82" height="125" fill="#700000"/>
<rect x="1218" y="1603" width="83" height="94" fill="#ffff14"/>
<rect x="1218" y="1697" width="83" height="63" fill="#166d08"/>
<rect x="1301" y="1603" width="83" height="157" fill="#fc5006"/>
<text transform="translate(1087.90 1627.60) scale(0.8148 1)" font-size="26" text-anchor="middle" fill="#fff">&lt;0.001</text>
<text transform="translate(1178.35 1627.60) scale(0.8400 1)" font-size="26" text-anchor="middle" fill="#000" fill-opacity="0.78">0.002</text>
<text transform="translate(1260.85 1627.60) scale(0.8400 1)" font-size="26" text-anchor="middle" fill="#000" fill-opacity="0.95">0.231</text>
<text transform="translate(1343.95 1627.60) scale(0.8400 1)" font-size="26" text-anchor="middle" fill="#000" fill-opacity="0.85">0.056</text>
<text transform="translate(1087.90 1659.00) scale(0.8400 1)" font-size="26" text-anchor="middle" fill="#000" fill-opacity="0.8">2.816</text>
<text transform="translate(1178.35 1659.00) scale(0.8148 1)" font-size="26" text-anchor="middle" fill="#fff">&lt;0.001</text>
<text transform="translate(1260.85 1659.00) scale(0.8400 1)" font-size="26" text-anchor="middle" fill="#000" fill-opacity="0.95">0.288</text>
<text transform="translate(1343.95 1659.00) scale(0.8400 1)" font-size="26" text-anchor="middle" fill="#000" fill-opacity="0.85">0.033</text>
<text transform="translate(1087.90 1690.40) scale(0.8400 1)" font-size="26" text-anchor="middle" fill="#000" fill-opacity="0.8">5.129</text>
<text transform="translate(1178.35 1690.40) scale(0.8148 1)" font-size="26" text-anchor="middle" fill="#fff">&lt;0.001</text>
<text transform="translate(1260.85 1690.40) scale(0.8400 1)" font-size="26" text-anchor="middle" fill="#000" fill-opacity="0.95">0.782</text>
<text transform="translate(1343.95 1690.40) scale(0.8400 1)" font-size="26" text-anchor="middle" fill="#000" fill-opacity="0.85">0.066</text>
<text transform="translate(1087.90 1721.80) scale(0.8400 1)" font-size="26" text-anchor="middle" fill="#000" fill-opacity="0.8">3.415</text>
<text transform="translate(1178.35 1721.80) scale(0.8148 1)" font-size="26" text-anchor="middle" fill="#fff">&lt;0.001</text>
<text transform="translate(1260.85 1721.80) scale(0.8400 1)" font-size="26" text-anchor="middle" fill="#000" fill-opacity="0.8">2.481</text>
<text transform="translate(1343.95 1721.80) scale(0.8400 1)" font-size="26" text-anchor="middle" fill="#000" fill-opacity="0.85">0.043</text>
<text transform="translate(1087.90 1753.20) scale(0.8400 1)" font-size="26" text-anchor="middle" fill="#000" fill-opacity="0.8">8.893</text>
<text transform="translate(1178.35 1753.20) scale(0.8148 1)" font-size="26" text-anchor="middle" fill="#fff">&lt;0.001</text>
<text transform="translate(1260.85 1753.20) scale(0.8400 1)" font-size="26" text-anchor="middle" fill="#000" fill-opacity="0.8">2.169</text>
<text transform="translate(1343.95 1753.20) scale(0.8400 1)" font-size="26" text-anchor="middle" fill="#000" fill-opacity="0.85">0.014</text>
<path d="M1045.50 1603.20V1886.50H1384.30V1603.20" fill="none" stroke="#000" stroke-width="2"/>
<text transform="translate(1389.30 1627.20) scale(0.8680 1)" font-size="25.4" text-anchor="start" fill="#0d0dc0">GDIR &amp; NLS</text>
<text transform="translate(1389.30 1658.60) scale(0.8680 1)" font-size="25.4" text-anchor="start" fill="#0d0dc0">GDIR &amp; NLS</text>
<text transform="translate(1389.30 1690.00) scale(0.8680 1)" font-size="25.4" text-anchor="start" fill="#0d0dc0">GDIR &amp; NLS</text>
<text transform="translate(1389.30 1721.40) scale(0.8680 1)" font-size="25.4" text-anchor="start" fill="#0d0dc0">GDIR &amp; NLS</text>
<text transform="translate(1389.30 1752.80) scale(0.8680 1)" font-size="25.4" text-anchor="start" fill="#0d0dc0">GDIR &amp; NLS</text>
<rect x="1544" y="1602" width="82" height="32" fill="#0c00ff"/>
<rect x="1544" y="1634" width="82" height="252" fill="#000000"/>
<rect x="1634" y="1602" width="82" height="158" fill="#700000"/>
<rect x="1634" y="1760" width="82" height="63" fill="#fe0208"/>
<rect x="1634" y="1823" width="82" height="32" fill="#fc5006"/>
<rect x="1634" y="1855" width="82" height="31" fill="#000000"/>
<rect x="1716" y="1602" width="83" height="127" fill="#ffff14"/>
<rect x="1716" y="1729" width="83" height="31" fill="#fc5006"/>
<rect x="1716" y="1760" width="83" height="95" fill="#ffff14"/>
<rect x="1716" y="1855" width="83" height="31" fill="#fc5006"/>
<rect x="1799" y="1602" width="84" height="284" fill="#fc5006"/>
<text transform="translate(1586.55 1626.80) scale(0.8148 1)" font-size="26" text-anchor="middle" fill="#000" fill-opacity="0.78">38.851</text>
<text transform="translate(1676.60 1626.80) scale(0.8148 1)" font-size="26" text-anchor="middle" fill="#fff">&lt;0.001</text>
<text transform="translate(1759.25 1626.80) scale(0.8400 1)" font-size="26" text-anchor="middle" fill="#000" fill-opacity="0.95">0.108</text>
<text transform="translate(1842.70 1626.80) scale(0.8400 1)" font-size="26" text-anchor="middle" fill="#000" fill-opacity="0.85">0.057</text>
<text transform="translate(1676.60 1658.35) scale(0.8148 1)" font-size="26" text-anchor="middle" fill="#fff">&lt;0.001</text>
<text transform="translate(1759.25 1658.35) scale(0.8400 1)" font-size="26" text-anchor="middle" fill="#000" fill-opacity="0.95">0.155</text>
<text transform="translate(1842.70 1658.35) scale(0.8400 1)" font-size="26" text-anchor="middle" fill="#000" fill-opacity="0.85">0.058</text>
<text transform="translate(1676.60 1689.90) scale(0.8148 1)" font-size="26" text-anchor="middle" fill="#fff">&lt;0.001</text>
<text transform="translate(1759.25 1689.90) scale(0.8400 1)" font-size="26" text-anchor="middle" fill="#000" fill-opacity="0.95">0.163</text>
<text transform="translate(1842.70 1689.90) scale(0.8400 1)" font-size="26" text-anchor="middle" fill="#000" fill-opacity="0.85">0.071</text>
<text transform="translate(1676.60 1721.45) scale(0.8148 1)" font-size="26" text-anchor="middle" fill="#fff">&lt;0.001</text>
<text transform="translate(1759.25 1721.45) scale(0.8400 1)" font-size="26" text-anchor="middle" fill="#000" fill-opacity="0.95">0.22</text>
<text transform="translate(1842.70 1721.45) scale(0.8400 1)" font-size="26" text-anchor="middle" fill="#000" fill-opacity="0.85">0.072</text>
<text transform="translate(1676.60 1753.00) scale(0.8148 1)" font-size="26" text-anchor="middle" fill="#fff">&lt;0.001</text>
<text transform="translate(1759.25 1753.00) scale(0.8400 1)" font-size="26" text-anchor="middle" fill="#000" fill-opacity="0.85">0.085</text>
<text transform="translate(1842.70 1753.00) scale(0.8400 1)" font-size="26" text-anchor="middle" fill="#000" fill-opacity="0.85">0.031</text>
<text transform="translate(1676.60 1784.55) scale(0.8400 1)" font-size="26" text-anchor="middle" fill="#000" fill-opacity="0.78">0.002</text>
<text transform="translate(1759.25 1784.55) scale(0.8400 1)" font-size="26" text-anchor="middle" fill="#000" fill-opacity="0.95">0.235</text>
<text transform="translate(1842.70 1784.55) scale(0.8400 1)" font-size="26" text-anchor="middle" fill="#000" fill-opacity="0.85">0.091</text>
<text transform="translate(1676.60 1816.10) scale(0.8400 1)" font-size="26" text-anchor="middle" fill="#000" fill-opacity="0.78">0.003</text>
<text transform="translate(1759.25 1816.10) scale(0.8400 1)" font-size="26" text-anchor="middle" fill="#000" fill-opacity="0.95">0.317</text>
<text transform="translate(1842.70 1816.10) scale(0.8400 1)" font-size="26" text-anchor="middle" fill="#000" fill-opacity="0.85">0.084</text>
<text transform="translate(1676.60 1847.65) scale(0.8400 1)" font-size="26" text-anchor="middle" fill="#000" fill-opacity="0.85">0.051</text>
<text transform="translate(1759.25 1847.65) scale(0.8400 1)" font-size="26" text-anchor="middle" fill="#000" fill-opacity="0.95">0.424</text>
<text transform="translate(1842.70 1847.65) scale(0.8400 1)" font-size="26" text-anchor="middle" fill="#000" fill-opacity="0.85">0.055</text>
<text transform="translate(1759.25 1879.20) scale(0.8400 1)" font-size="26" text-anchor="middle" fill="#000" fill-opacity="0.85">0.015</text>
<text transform="translate(1842.70 1879.20) scale(0.8400 1)" font-size="26" text-anchor="middle" fill="#000" fill-opacity="0.85">0.041</text>
<rect x="1543.90" y="1602.40" width="339.10" height="284.10" fill="none" stroke="#000" stroke-width="2"/>
<text transform="translate(1888.00 1625.20) scale(0.8680 1)" font-size="25.4" text-anchor="start" fill="#000">G<tspan fill="#e0101a">N</tspan>IR &amp; NIS</text>
<text transform="translate(1888.00 1656.75) scale(0.8680 1)" font-size="25.4" text-anchor="start" fill="#000">G<tspan fill="#e0101a">N</tspan>IR &amp; NLS</text>
<text transform="translate(1888.00 1688.30) scale(0.8680 1)" font-size="25.4" text-anchor="start" fill="#000">G<tspan fill="#e0101a">N</tspan>IR &amp; NIS</text>
<text transform="translate(1888.00 1719.85) scale(0.8680 1)" font-size="25.4" text-anchor="start" fill="#000">G<tspan fill="#e0101a">N</tspan>IR &amp; NIS</text>
<text transform="translate(1888.00 1751.40) scale(0.8680 1)" font-size="25.4" text-anchor="start" fill="#000">G<tspan fill="#e0101a">N</tspan>IR &amp; NIS</text>
<text transform="translate(1888.00 1782.95) scale(0.8680 1)" font-size="25.4" text-anchor="start" fill="#000">G<tspan fill="#e0101a">N</tspan>IR &amp; NLS</text>
<text transform="translate(1888.00 1814.50) scale(0.8680 1)" font-size="25.4" text-anchor="start" fill="#000">G<tspan fill="#e0101a">N</tspan>IR &amp; NLS</text>
<text transform="translate(1888.00 1846.05) scale(0.8680 1)" font-size="25.4" text-anchor="start" fill="#000">G<tspan fill="#e0101a">N</tspan>IR &amp; NLS</text>
<text transform="translate(1888.00 1877.60) scale(0.8680 1)" font-size="25.4" text-anchor="start" fill="#000">G<tspan fill="#e0101a">N</tspan>IR &amp; NLS</text>
<text transform="translate(1524.50 1565.24)" font-size="43" text-anchor="middle" fill="#000" font-family="'DejaVu Sans','Liberation Sans',sans-serif" stroke="#000" stroke-width="0.5">*</text>
<text transform="translate(2022.80 1220.94)" font-size="43" text-anchor="middle" fill="#000" font-family="'DejaVu Sans','Liberation Sans',sans-serif" stroke="#000" stroke-width="0.5">*</text>
<text transform="translate(2022.80 1255.04)" font-size="43" text-anchor="middle" fill="#000" font-family="'DejaVu Sans','Liberation Sans',sans-serif" stroke="#000" stroke-width="0.5">*</text>
<text transform="translate(2022.80 1286.74)" font-size="43" text-anchor="middle" fill="#000" font-family="'DejaVu Sans','Liberation Sans',sans-serif" stroke="#000" stroke-width="0.5">*</text>
<text transform="translate(2022.80 1322.34)" font-size="43" text-anchor="middle" fill="#000" font-family="'DejaVu Sans','Liberation Sans',sans-serif" stroke="#000" stroke-width="0.5">*</text>
<text transform="translate(2023.50 1624.24)" font-size="43" text-anchor="middle" fill="#000" font-family="'DejaVu Sans','Liberation Sans',sans-serif" stroke="#000" stroke-width="0.5">*</text>
<text transform="translate(2023.50 1659.54)" font-size="43" text-anchor="middle" fill="#000" font-family="'DejaVu Sans','Liberation Sans',sans-serif" stroke="#000" stroke-width="0.5">*</text>
<text transform="translate(2023.50 1690.24)" font-size="43" text-anchor="middle" fill="#000" font-family="'DejaVu Sans','Liberation Sans',sans-serif" stroke="#000" stroke-width="0.5">*</text>
<text transform="translate(2023.50 1727.34)" font-size="43" text-anchor="middle" fill="#000" font-family="'DejaVu Sans','Liberation Sans',sans-serif" stroke="#000" stroke-width="0.5">*</text>
<text transform="translate(2023.50 1757.34)" font-size="43" text-anchor="middle" fill="#000" font-family="'DejaVu Sans','Liberation Sans',sans-serif" stroke="#000" stroke-width="0.5">*</text>
<text transform="translate(1063.10 1936.00) scale(1.0014 1)" font-size="29.5" text-anchor="start" fill="#000">IC50</text>
<rect x="1062" y="1961" width="62" height="38" fill="#700000"/>
<rect x="1062" y="1999" width="62" height="33" fill="#fe0208"/>
<rect x="1062" y="2032" width="62" height="34" fill="#fc5006"/>
<rect x="1062" y="2065" width="62" height="34" fill="#ffff14"/>
<rect x="1062" y="2099" width="62" height="34" fill="#166d08"/>
<rect x="1062" y="2135" width="62" height="35" fill="#0c00ff"/>
<rect x="1062" y="2170" width="62" height="33" fill="#000000"/>
<rect x="1065" y="2132" width="56" height="4" fill="#1d5aa0"/>
<text transform="translate(1136.50 1980.60) scale(0.9373 1)" font-size="28" text-anchor="start" fill="#000">&lt;0.001</text>
<text transform="translate(1136.50 2016.50) scale(0.9541 1)" font-size="28" text-anchor="start" fill="#000">0.001 to &lt; 0.01</text>
<text transform="translate(1136.50 2051.50) scale(0.9491 1)" font-size="28" text-anchor="start" fill="#000">0.01 to &lt; 0.1</text>
<text transform="translate(1136.50 2086.80) scale(0.9456 1)" font-size="28" text-anchor="start" fill="#000">0.1 to  &lt; 1</text>
<text transform="translate(1136.50 2122.30) scale(0.9840 1)" font-size="28" text-anchor="start" fill="#000">1 to &lt; 10</text>
<text transform="translate(1136.50 2157.30) scale(0.9635 1)" font-size="28" text-anchor="start" fill="#000">10 to  50</text>
<text transform="translate(1136.50 2192.30) scale(1.0106 1)" font-size="28" text-anchor="start" fill="#000">&gt;50</text>
<text transform="translate(1428.00 1969.97)" font-size="38" text-anchor="middle" fill="#000" font-weight="bold" font-family="'DejaVu Sans','Liberation Sans',sans-serif" stroke="#000" stroke-width="0.6">*</text>
<text transform="translate(1438.90 1982.00) scale(0.9817 1)" font-size="30" text-anchor="start" fill="#000">Glycan at N413</text>
</svg>
</body></html>
